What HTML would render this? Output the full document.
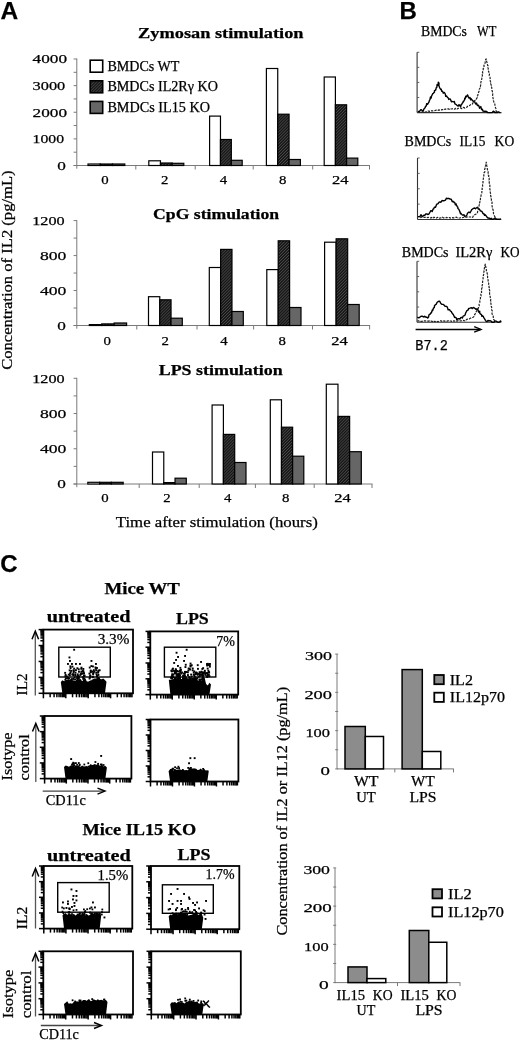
<!DOCTYPE html>
<html><head><meta charset="utf-8"><style>
html,body{margin:0;padding:0;background:#fff;}
svg{display:block;filter:grayscale(1);}
text{stroke:#000;stroke-width:0.25px;}
</style></head><body>
<svg width="520" height="1042" viewBox="0 0 520 1042">
<defs>
<pattern id="hatch" patternUnits="userSpaceOnUse" width="2.1" height="2.1" patternTransform="rotate(45)">
<rect width="2.1" height="2.1" fill="#141414"/>
<rect x="0" y="0" width="0.8" height="2.1" fill="#4a4a4a"/>
</pattern>
</defs>
<rect width="520" height="1042" fill="#fff"/>
<text x="0.6" y="19.0" font-size="24.5" font-family='"Liberation Sans", sans-serif' font-weight="bold" text-anchor="start" >A</text>
<text x="399.5" y="19.0" font-size="24" font-family='"Liberation Sans", sans-serif' font-weight="bold" text-anchor="start" >B</text>
<text x="0.3" y="572.3" font-size="24" font-family='"Liberation Sans", sans-serif' font-weight="bold" text-anchor="start" >C</text>
<text x="138.1" y="38.3" font-size="15.5" font-family='"Liberation Serif", serif' font-weight="bold" text-anchor="start" textLength="165.4" lengthAdjust="spacingAndGlyphs" >Zymosan stimulation</text>
<line x1="76.8" y1="58.5" x2="76.8" y2="168.7" stroke="#7a7a7a" stroke-width="1"/>
<line x1="73.6" y1="59.0" x2="76.8" y2="59.0" stroke="#7a7a7a" stroke-width="1"/>
<text x="32.6" y="63.3" font-size="13" font-family='"Liberation Serif", serif' font-weight="normal" text-anchor="start" textLength="34.4" lengthAdjust="spacingAndGlyphs" >4000</text>
<line x1="73.6" y1="72.3125" x2="76.8" y2="72.3125" stroke="#7a7a7a" stroke-width="1"/>
<line x1="73.6" y1="85.625" x2="76.8" y2="85.625" stroke="#7a7a7a" stroke-width="1"/>
<text x="32.6" y="89.925" font-size="13" font-family='"Liberation Serif", serif' font-weight="normal" text-anchor="start" textLength="32.6" lengthAdjust="spacingAndGlyphs" >3000</text>
<line x1="73.6" y1="98.9375" x2="76.8" y2="98.9375" stroke="#7a7a7a" stroke-width="1"/>
<line x1="73.6" y1="112.25" x2="76.8" y2="112.25" stroke="#7a7a7a" stroke-width="1"/>
<text x="32.6" y="116.55" font-size="13" font-family='"Liberation Serif", serif' font-weight="normal" text-anchor="start" textLength="34.4" lengthAdjust="spacingAndGlyphs" >2000</text>
<line x1="73.6" y1="125.5625" x2="76.8" y2="125.5625" stroke="#7a7a7a" stroke-width="1"/>
<line x1="73.6" y1="138.875" x2="76.8" y2="138.875" stroke="#7a7a7a" stroke-width="1"/>
<text x="32.6" y="143.175" font-size="13" font-family='"Liberation Serif", serif' font-weight="normal" text-anchor="start" textLength="31.4" lengthAdjust="spacingAndGlyphs" >1000</text>
<line x1="73.6" y1="152.1875" x2="76.8" y2="152.1875" stroke="#7a7a7a" stroke-width="1"/>
<line x1="73.6" y1="165.5" x2="76.8" y2="165.5" stroke="#7a7a7a" stroke-width="1"/>
<text x="57.2" y="169.8" font-size="13" font-family='"Liberation Serif", serif' font-weight="normal" text-anchor="start" textLength="8.6" lengthAdjust="spacingAndGlyphs" >0</text>
<line x1="73.5" y1="165.5" x2="370.0" y2="165.5" stroke="#7a7a7a" stroke-width="1"/>
<line x1="135.8" y1="165.5" x2="135.8" y2="169.5" stroke="#7a7a7a" stroke-width="1"/>
<line x1="195.2" y1="165.5" x2="195.2" y2="169.5" stroke="#7a7a7a" stroke-width="1"/>
<line x1="253.2" y1="165.5" x2="253.2" y2="169.5" stroke="#7a7a7a" stroke-width="1"/>
<line x1="312.7" y1="165.5" x2="312.7" y2="169.5" stroke="#7a7a7a" stroke-width="1"/>
<line x1="369.5" y1="165.5" x2="369.5" y2="169.5" stroke="#7a7a7a" stroke-width="1"/>
<rect x="88.0" y="164.0" width="12.266666666666666" height="1.5" fill="#fff" stroke="#000" stroke-width="1.2"/>
<rect x="100.26666666666667" y="164.0" width="12.266666666666666" height="1.5" fill="url(#hatch)" stroke="#000" stroke-width="1.2"/>
<rect x="112.53333333333333" y="164.0" width="12.266666666666666" height="1.5" fill="#666" stroke="#000" stroke-width="1.2"/>
<rect x="148.8" y="160.8" width="11.666666666666666" height="4.699999999999989" fill="#fff" stroke="#000" stroke-width="1.2"/>
<rect x="160.46666666666667" y="163.0" width="11.666666666666666" height="2.5" fill="url(#hatch)" stroke="#000" stroke-width="1.2"/>
<rect x="172.13333333333335" y="163.3" width="11.666666666666666" height="2.1999999999999886" fill="#666" stroke="#000" stroke-width="1.2"/>
<rect x="209.6" y="116.1" width="10.866666666666665" height="49.400000000000006" fill="#fff" stroke="#000" stroke-width="1.2"/>
<rect x="220.46666666666667" y="139.5" width="10.866666666666665" height="26.0" fill="url(#hatch)" stroke="#000" stroke-width="1.2"/>
<rect x="231.33333333333331" y="160.3" width="10.866666666666665" height="5.199999999999989" fill="#666" stroke="#000" stroke-width="1.2"/>
<rect x="266.4" y="68.5" width="11.333333333333334" height="97.0" fill="#fff" stroke="#000" stroke-width="1.2"/>
<rect x="277.7333333333333" y="114.2" width="11.333333333333334" height="51.3" fill="url(#hatch)" stroke="#000" stroke-width="1.2"/>
<rect x="289.06666666666666" y="159.5" width="11.333333333333334" height="6.0" fill="#666" stroke="#000" stroke-width="1.2"/>
<rect x="324.2" y="77.0" width="11.200000000000008" height="88.5" fill="#fff" stroke="#000" stroke-width="1.2"/>
<rect x="335.4" y="104.8" width="11.200000000000008" height="60.7" fill="url(#hatch)" stroke="#000" stroke-width="1.2"/>
<rect x="346.6" y="158.1" width="11.200000000000008" height="7.400000000000006" fill="#666" stroke="#000" stroke-width="1.2"/>
<text x="105" y="183.9" font-size="13" font-family='"Liberation Serif", serif' font-weight="normal" text-anchor="middle" textLength="7.4" lengthAdjust="spacingAndGlyphs" >0</text>
<text x="164.8" y="183.9" font-size="13" font-family='"Liberation Serif", serif' font-weight="normal" text-anchor="middle" textLength="7.4" lengthAdjust="spacingAndGlyphs" >2</text>
<text x="223.5" y="183.9" font-size="13" font-family='"Liberation Serif", serif' font-weight="normal" text-anchor="middle" textLength="7.4" lengthAdjust="spacingAndGlyphs" >4</text>
<text x="282.8" y="183.9" font-size="13" font-family='"Liberation Serif", serif' font-weight="normal" text-anchor="middle" textLength="7.4" lengthAdjust="spacingAndGlyphs" >8</text>
<text x="340.2" y="183.9" font-size="13" font-family='"Liberation Serif", serif' font-weight="normal" text-anchor="middle" textLength="16.5" lengthAdjust="spacingAndGlyphs" >24</text>
<text x="153.1" y="218.7" font-size="15.5" font-family='"Liberation Serif", serif' font-weight="bold" text-anchor="start" textLength="126" lengthAdjust="spacingAndGlyphs" >CpG stimulation</text>
<line x1="76.8" y1="220.1" x2="76.8" y2="328.7" stroke="#7a7a7a" stroke-width="1"/>
<line x1="73.6" y1="220.6" x2="76.8" y2="220.6" stroke="#7a7a7a" stroke-width="1"/>
<text x="32.2" y="224.9" font-size="13" font-family='"Liberation Serif", serif' font-weight="normal" text-anchor="start" textLength="32.4" lengthAdjust="spacingAndGlyphs" >1200</text>
<line x1="73.6" y1="238.08333333333331" x2="76.8" y2="238.08333333333331" stroke="#7a7a7a" stroke-width="1"/>
<line x1="73.6" y1="255.56666666666666" x2="76.8" y2="255.56666666666666" stroke="#7a7a7a" stroke-width="1"/>
<text x="40.0" y="259.8666666666667" font-size="13" font-family='"Liberation Serif", serif' font-weight="normal" text-anchor="start" textLength="26.4" lengthAdjust="spacingAndGlyphs" >800</text>
<line x1="73.6" y1="273.05" x2="76.8" y2="273.05" stroke="#7a7a7a" stroke-width="1"/>
<line x1="73.6" y1="290.5333333333333" x2="76.8" y2="290.5333333333333" stroke="#7a7a7a" stroke-width="1"/>
<text x="40.0" y="294.8333333333333" font-size="13" font-family='"Liberation Serif", serif' font-weight="normal" text-anchor="start" textLength="26.4" lengthAdjust="spacingAndGlyphs" >400</text>
<line x1="73.6" y1="308.01666666666665" x2="76.8" y2="308.01666666666665" stroke="#7a7a7a" stroke-width="1"/>
<line x1="73.6" y1="325.5" x2="76.8" y2="325.5" stroke="#7a7a7a" stroke-width="1"/>
<text x="57.2" y="329.8" font-size="13" font-family='"Liberation Serif", serif' font-weight="normal" text-anchor="start" textLength="8.6" lengthAdjust="spacingAndGlyphs" >0</text>
<line x1="73.5" y1="325.5" x2="370.1" y2="325.5" stroke="#7a7a7a" stroke-width="1"/>
<line x1="136.8" y1="325.5" x2="136.8" y2="329.5" stroke="#7a7a7a" stroke-width="1"/>
<line x1="197" y1="325.5" x2="197" y2="329.5" stroke="#7a7a7a" stroke-width="1"/>
<line x1="253.6" y1="325.5" x2="253.6" y2="329.5" stroke="#7a7a7a" stroke-width="1"/>
<line x1="312.5" y1="325.5" x2="312.5" y2="329.5" stroke="#7a7a7a" stroke-width="1"/>
<line x1="369.6" y1="325.5" x2="369.6" y2="329.5" stroke="#7a7a7a" stroke-width="1"/>
<rect x="89.3" y="324.6" width="12.433333333333332" height="0.8999999999999773" fill="#fff" stroke="#000" stroke-width="1.2"/>
<rect x="101.73333333333333" y="323.9" width="12.433333333333332" height="1.6000000000000227" fill="url(#hatch)" stroke="#000" stroke-width="1.2"/>
<rect x="114.16666666666666" y="323.0" width="12.433333333333332" height="2.5" fill="#666" stroke="#000" stroke-width="1.2"/>
<rect x="148.5" y="296.7" width="11.266666666666671" height="28.80000000000001" fill="#fff" stroke="#000" stroke-width="1.2"/>
<rect x="159.76666666666668" y="299.8" width="11.266666666666671" height="25.69999999999999" fill="url(#hatch)" stroke="#000" stroke-width="1.2"/>
<rect x="171.03333333333333" y="318.2" width="11.266666666666671" height="7.300000000000011" fill="#666" stroke="#000" stroke-width="1.2"/>
<rect x="209.3" y="267.5" width="11.333333333333334" height="58.0" fill="#fff" stroke="#000" stroke-width="1.2"/>
<rect x="220.63333333333335" y="249.4" width="11.333333333333334" height="76.1" fill="url(#hatch)" stroke="#000" stroke-width="1.2"/>
<rect x="231.96666666666667" y="311.5" width="11.333333333333334" height="14.0" fill="#666" stroke="#000" stroke-width="1.2"/>
<rect x="266.8" y="269.6" width="11.399999999999997" height="55.89999999999998" fill="#fff" stroke="#000" stroke-width="1.2"/>
<rect x="278.2" y="240.8" width="11.399999999999997" height="84.69999999999999" fill="url(#hatch)" stroke="#000" stroke-width="1.2"/>
<rect x="289.6" y="307.5" width="11.399999999999997" height="18.0" fill="#666" stroke="#000" stroke-width="1.2"/>
<rect x="324.6" y="242.2" width="11.533333333333323" height="83.30000000000001" fill="#fff" stroke="#000" stroke-width="1.2"/>
<rect x="336.1333333333333" y="238.8" width="11.533333333333323" height="86.69999999999999" fill="url(#hatch)" stroke="#000" stroke-width="1.2"/>
<rect x="347.6666666666667" y="304.5" width="11.533333333333323" height="21.0" fill="#666" stroke="#000" stroke-width="1.2"/>
<text x="107.1" y="345.0" font-size="13" font-family='"Liberation Serif", serif' font-weight="normal" text-anchor="middle" textLength="7.4" lengthAdjust="spacingAndGlyphs" >0</text>
<text x="165.3" y="345.0" font-size="13" font-family='"Liberation Serif", serif' font-weight="normal" text-anchor="middle" textLength="7.4" lengthAdjust="spacingAndGlyphs" >2</text>
<text x="224" y="345.0" font-size="13" font-family='"Liberation Serif", serif' font-weight="normal" text-anchor="middle" textLength="7.4" lengthAdjust="spacingAndGlyphs" >4</text>
<text x="282.1" y="345.0" font-size="13" font-family='"Liberation Serif", serif' font-weight="normal" text-anchor="middle" textLength="7.4" lengthAdjust="spacingAndGlyphs" >8</text>
<text x="339.5" y="345.0" font-size="13" font-family='"Liberation Serif", serif' font-weight="normal" text-anchor="middle" textLength="16.5" lengthAdjust="spacingAndGlyphs" >24</text>
<text x="158.7" y="375.3" font-size="15.5" font-family='"Liberation Serif", serif' font-weight="bold" text-anchor="start" textLength="124" lengthAdjust="spacingAndGlyphs" >LPS stimulation</text>
<line x1="76.8" y1="377.8" x2="76.8" y2="487.2" stroke="#7a7a7a" stroke-width="1"/>
<line x1="73.6" y1="378.3" x2="76.8" y2="378.3" stroke="#7a7a7a" stroke-width="1"/>
<text x="32.2" y="382.6" font-size="13" font-family='"Liberation Serif", serif' font-weight="normal" text-anchor="start" textLength="32.4" lengthAdjust="spacingAndGlyphs" >1200</text>
<line x1="73.6" y1="395.9166666666667" x2="76.8" y2="395.9166666666667" stroke="#7a7a7a" stroke-width="1"/>
<line x1="73.6" y1="413.53333333333336" x2="76.8" y2="413.53333333333336" stroke="#7a7a7a" stroke-width="1"/>
<text x="40.0" y="417.83333333333337" font-size="13" font-family='"Liberation Serif", serif' font-weight="normal" text-anchor="start" textLength="26.4" lengthAdjust="spacingAndGlyphs" >800</text>
<line x1="73.6" y1="431.15" x2="76.8" y2="431.15" stroke="#7a7a7a" stroke-width="1"/>
<line x1="73.6" y1="448.76666666666665" x2="76.8" y2="448.76666666666665" stroke="#7a7a7a" stroke-width="1"/>
<text x="40.0" y="453.06666666666666" font-size="13" font-family='"Liberation Serif", serif' font-weight="normal" text-anchor="start" textLength="26.4" lengthAdjust="spacingAndGlyphs" >400</text>
<line x1="73.6" y1="466.3833333333333" x2="76.8" y2="466.3833333333333" stroke="#7a7a7a" stroke-width="1"/>
<line x1="73.6" y1="484.0" x2="76.8" y2="484.0" stroke="#7a7a7a" stroke-width="1"/>
<text x="57.2" y="488.3" font-size="13" font-family='"Liberation Serif", serif' font-weight="normal" text-anchor="start" textLength="8.6" lengthAdjust="spacingAndGlyphs" >0</text>
<line x1="73.5" y1="484" x2="372.5" y2="484" stroke="#7a7a7a" stroke-width="1"/>
<line x1="139.2" y1="484" x2="139.2" y2="488" stroke="#7a7a7a" stroke-width="1"/>
<line x1="199.2" y1="484" x2="199.2" y2="488" stroke="#7a7a7a" stroke-width="1"/>
<line x1="255.4" y1="484" x2="255.4" y2="488" stroke="#7a7a7a" stroke-width="1"/>
<line x1="314.2" y1="484" x2="314.2" y2="488" stroke="#7a7a7a" stroke-width="1"/>
<line x1="372" y1="484" x2="372" y2="488" stroke="#7a7a7a" stroke-width="1"/>
<rect x="87.8" y="482.3" width="11.800000000000002" height="1.6999999999999886" fill="#fff" stroke="#000" stroke-width="1.2"/>
<rect x="99.6" y="482.3" width="11.800000000000002" height="1.6999999999999886" fill="url(#hatch)" stroke="#000" stroke-width="1.2"/>
<rect x="111.4" y="482.3" width="11.800000000000002" height="1.6999999999999886" fill="#666" stroke="#000" stroke-width="1.2"/>
<rect x="152.5" y="452" width="11.266666666666671" height="32" fill="#fff" stroke="#000" stroke-width="1.2"/>
<rect x="163.76666666666668" y="482.6" width="11.266666666666671" height="1.3999999999999773" fill="url(#hatch)" stroke="#000" stroke-width="1.2"/>
<rect x="175.03333333333333" y="478.2" width="11.266666666666671" height="5.800000000000011" fill="#666" stroke="#000" stroke-width="1.2"/>
<rect x="212.1" y="405" width="11.300000000000002" height="79" fill="#fff" stroke="#000" stroke-width="1.2"/>
<rect x="223.4" y="434.4" width="11.300000000000002" height="49.60000000000002" fill="url(#hatch)" stroke="#000" stroke-width="1.2"/>
<rect x="234.7" y="462.5" width="11.300000000000002" height="21.5" fill="#666" stroke="#000" stroke-width="1.2"/>
<rect x="270.3" y="399.8" width="11.166666666666666" height="84.19999999999999" fill="#fff" stroke="#000" stroke-width="1.2"/>
<rect x="281.4666666666667" y="427.2" width="11.166666666666666" height="56.80000000000001" fill="url(#hatch)" stroke="#000" stroke-width="1.2"/>
<rect x="292.6333333333333" y="456.2" width="11.166666666666666" height="27.80000000000001" fill="#666" stroke="#000" stroke-width="1.2"/>
<rect x="326.3" y="384.2" width="11.666666666666666" height="99.80000000000001" fill="#fff" stroke="#000" stroke-width="1.2"/>
<rect x="337.9666666666667" y="416.4" width="11.666666666666666" height="67.60000000000002" fill="url(#hatch)" stroke="#000" stroke-width="1.2"/>
<rect x="349.6333333333333" y="451.7" width="11.666666666666666" height="32.30000000000001" fill="#666" stroke="#000" stroke-width="1.2"/>
<text x="105" y="502.3" font-size="13" font-family='"Liberation Serif", serif' font-weight="normal" text-anchor="middle" textLength="7.4" lengthAdjust="spacingAndGlyphs" >0</text>
<text x="167" y="502.3" font-size="13" font-family='"Liberation Serif", serif' font-weight="normal" text-anchor="middle" textLength="7.4" lengthAdjust="spacingAndGlyphs" >2</text>
<text x="227.7" y="502.3" font-size="13" font-family='"Liberation Serif", serif' font-weight="normal" text-anchor="middle" textLength="7.4" lengthAdjust="spacingAndGlyphs" >4</text>
<text x="285.8" y="502.3" font-size="13" font-family='"Liberation Serif", serif' font-weight="normal" text-anchor="middle" textLength="7.4" lengthAdjust="spacingAndGlyphs" >8</text>
<text x="342.6" y="502.3" font-size="13" font-family='"Liberation Serif", serif' font-weight="normal" text-anchor="middle" textLength="16.5" lengthAdjust="spacingAndGlyphs" >24</text>
<text x="115.8" y="526.5" font-size="15" font-family='"Liberation Serif", serif' font-weight="normal" text-anchor="start" textLength="202" lengthAdjust="spacingAndGlyphs" >Time after stimulation (hours)</text>
<text transform="translate(11.5,270.1) rotate(-90)" font-size="14.5" font-family='"Liberation Serif", serif' text-anchor="middle" textLength="199.4" lengthAdjust="spacingAndGlyphs">Concentration of IL2 (pg/mL)</text>
<rect x="90.2" y="60.2" width="12.5" height="12" fill="#fff" stroke="#000" stroke-width="1.6"/>
<text x="107.4" y="70.8" font-size="14" font-family='"Liberation Serif", serif' font-weight="normal" text-anchor="start" textLength="72" lengthAdjust="spacingAndGlyphs" >BMDCs WT</text>
<rect x="90.2" y="80.8" width="12.5" height="12" fill="url(#hatch)" stroke="#000" stroke-width="1.6"/>
<text x="107.4" y="91.4" font-size="14" font-family='"Liberation Serif", serif' font-weight="normal" text-anchor="start" textLength="110.5" lengthAdjust="spacingAndGlyphs" >BMDCs IL2R&#947; KO</text>
<rect x="90.2" y="101.4" width="12.5" height="12" fill="#666" stroke="#000" stroke-width="1.6"/>
<text x="107.4" y="112.00000000000001" font-size="14" font-family='"Liberation Serif", serif' font-weight="normal" text-anchor="start" textLength="102.5" lengthAdjust="spacingAndGlyphs" >BMDCs IL15 KO</text>
<text x="421" y="35.9" font-size="13.6" font-family='"Liberation Serif", serif' font-weight="normal" text-anchor="start" textLength="45.9" lengthAdjust="spacingAndGlyphs" >BMDCs</text>
<text x="476.9" y="35.9" font-size="13.6" font-family='"Liberation Serif", serif' font-weight="normal" text-anchor="start" textLength="19.4" lengthAdjust="spacingAndGlyphs" >WT</text>
<text x="404.6" y="145.7" font-size="14" font-family='"Liberation Serif", serif' font-weight="normal" text-anchor="start" textLength="46.6" lengthAdjust="spacingAndGlyphs" >BMDCs</text>
<text x="459.5" y="145.7" font-size="14" font-family='"Liberation Serif", serif' font-weight="normal" text-anchor="start" textLength="25.9" lengthAdjust="spacingAndGlyphs" >IL15</text>
<text x="494.6" y="145.7" font-size="14" font-family='"Liberation Serif", serif' font-weight="normal" text-anchor="start" textLength="19.6" lengthAdjust="spacingAndGlyphs" >KO</text>
<text x="401.8" y="256.6" font-size="14" font-family='"Liberation Serif", serif' font-weight="normal" text-anchor="start" textLength="46.7" lengthAdjust="spacingAndGlyphs" >BMDCs</text>
<text x="455.4" y="256.6" font-size="14" font-family='"Liberation Serif", serif' font-weight="normal" text-anchor="start" textLength="36.9" lengthAdjust="spacingAndGlyphs" >IL2R&#947;</text>
<text x="500.4" y="256.6" font-size="14" font-family='"Liberation Serif", serif' font-weight="normal" text-anchor="start" textLength="19.1" lengthAdjust="spacingAndGlyphs" >KO</text>
<line x1="417.1" y1="52.3" x2="417.1" y2="112.6" stroke="#333" stroke-width="1.1"/>
<line x1="417.1" y1="112.6" x2="501.5" y2="112.6" stroke="#333" stroke-width="1.1"/>
<line x1="417.1" y1="52.3" x2="419.3" y2="52.3" stroke="#555" stroke-width="0.9"/>
<line x1="417.1" y1="67.375" x2="419.3" y2="67.375" stroke="#555" stroke-width="0.9"/>
<line x1="417.1" y1="82.44999999999999" x2="419.3" y2="82.44999999999999" stroke="#555" stroke-width="0.9"/>
<line x1="417.1" y1="97.52499999999999" x2="419.3" y2="97.52499999999999" stroke="#555" stroke-width="0.9"/>
<polyline points="417.7,111.6 418.7,111.5 419.4,111.7 420.8,109.6 421.4,109.7 422.5,111.2 423.5,110.3 423.9,108.9 424.9,108.0 425.4,106.9 425.5,106.4 426.4,105.8 426.6,103.7 427.5,104.3 428.3,103.1 428.9,102.2 429.4,100.5 429.9,99.7 429.9,99.9 430.5,97.0 431.1,98.2 431.5,96.3 432.1,95.0 432.7,93.7 433.3,93.3 433.9,92.6 434.5,92.1 434.5,90.6 435.6,90.2 435.9,89.3 436.2,87.8 436.9,87.2 437.0,84.8 438.0,85.3 438.3,82.4 438.3,82.3 439.0,83.2 438.9,85.9 439.2,86.4 439.7,87.9 440.7,89.3 441.3,89.2 441.3,89.7 441.8,91.4 442.6,91.3 443.3,93.2 444.4,92.5 445.3,94.0 445.7,96.3 446.5,95.9 447.3,97.1 448.1,97.7 448.8,99.4 449.8,98.9 450.3,99.1 451.4,101.8 452.0,101.4 453.3,101.8 454.3,101.5 454.9,103.8 456.1,104.5 457.0,105.3 458.2,106.1 459.0,104.7 460.7,106.7 461.0,104.7 461.5,104.7 462.2,103.2 463.0,102.4 463.3,101.2 463.6,101.5 464.5,100.0 464.7,98.3 465.2,98.7 465.8,96.1 466.5,96.7 467.6,94.9 468.4,97.1 469.0,98.0 470.0,97.5 470.6,99.8 471.3,98.8 472.3,100.3 473.7,101.8 474.3,100.9 475.3,103.3 475.9,104.1 476.6,103.1 477.4,105.6 478.3,105.2 479.0,106.2 479.6,108.2 480.8,106.6 481.6,109.6 482.4,109.2 482.9,111.1 484.2,111.2 485.0,111.6 485.8,111.2 486.6,111.6 487.8,112.6 488.7,112.6 490.1,112.6 491.3,112.6 492.1,112.6 493.3,111.2 494.0,111.6 495.2,112.6 496.5,112.3 497.2,112.6 498.5,111.9 499.5,112.5 500.4,112.6" fill="none" stroke="#000" stroke-width="1.4" stroke-linejoin="round"/>
<polyline points="421.3,112.0 422.3,112.1 423.5,111.6 424.7,112.3 425.4,112.0 426.5,111.6 427.4,111.1 428.9,111.0 429.8,111.5 430.5,111.3 431.8,110.7 432.9,111.0 433.5,111.0 434.8,110.6 435.6,110.3 436.5,110.2 438.0,110.5 438.7,109.9 439.9,110.2 441.2,110.1 442.0,109.6 443.1,109.6 444.1,109.0 445.0,109.5 446.4,108.7 447.4,108.8 448.4,108.9 449.4,109.4 450.5,108.8 451.6,109.0 452.9,108.7 453.9,108.6 454.7,109.2 455.8,108.3 457.1,109.0 458.0,108.4 459.2,108.2 460.4,107.9 461.7,108.6 462.8,108.2 463.5,107.4 464.9,108.1 466.1,107.4 466.9,107.1 467.5,106.3 468.4,106.0 469.9,105.4 470.3,104.9 471.3,104.1 472.2,104.1 472.9,102.8 473.9,102.7 474.4,101.1 475.3,100.2 476.1,100.0 476.6,98.4 477.2,97.6 477.2,96.5 477.4,96.2 477.8,95.5 478.0,93.8 478.4,92.6 478.9,91.9 479.0,91.5 479.2,89.7 479.4,89.0 480.1,88.0 479.9,86.9 480.4,86.7 480.5,85.8 480.8,84.6 481.0,83.5 480.8,82.2 481.4,80.9 481.6,80.6 481.7,79.0 481.8,78.4 481.9,77.4 482.2,76.3 482.5,74.9 482.2,74.5 482.9,73.5 482.5,72.2 482.7,71.4 483.2,70.5 483.2,68.5 483.7,68.0 484.1,67.1 483.9,65.5 484.1,65.2 484.5,64.1 485.1,63.0 485.2,62.0 485.3,61.0 485.6,59.7 486.2,58.9 486.3,59.6 486.3,60.2 486.8,61.9 487.2,63.3 487.3,63.6 487.6,65.4 488.1,65.7 487.8,67.5 488.2,68.3 488.3,69.5 488.6,70.0 488.5,71.8 489.0,71.9 489.1,73.7 489.5,74.3 489.2,75.6 489.4,76.8 490.0,77.2 490.1,78.3 490.3,79.1 490.1,80.1 490.4,81.5 490.9,82.5 490.5,83.7 491.0,84.3 491.3,85.5 491.1,86.5 491.7,87.3 491.8,88.4 491.9,90.1 492.1,90.8 492.4,91.5 492.6,92.6 492.7,93.5 492.7,95.0 492.6,95.7 492.9,97.0 493.0,97.9 493.1,98.3 493.3,100.1 493.6,101.2 493.9,101.9 494.0,103.0 494.8,103.9 494.9,104.7 495.0,105.9 495.1,106.6 495.9,108.6 496.1,109.5 496.0,110.7 496.5,111.4 497.8,112.0 498.5,112.6" fill="none" stroke="#222" stroke-width="1.2" stroke-linejoin="round" stroke-dasharray="2.4 1.1"/>
<line x1="417.5" y1="158" x2="417.5" y2="219.5" stroke="#333" stroke-width="1.1"/>
<line x1="417.5" y1="219.5" x2="501.3" y2="219.5" stroke="#333" stroke-width="1.1"/>
<line x1="417.5" y1="158.0" x2="419.7" y2="158.0" stroke="#555" stroke-width="0.9"/>
<line x1="417.5" y1="173.375" x2="419.7" y2="173.375" stroke="#555" stroke-width="0.9"/>
<line x1="417.5" y1="188.75" x2="419.7" y2="188.75" stroke="#555" stroke-width="0.9"/>
<line x1="417.5" y1="204.125" x2="419.7" y2="204.125" stroke="#555" stroke-width="0.9"/>
<polyline points="417.8,216.6 419.0,216.7 420.1,216.4 420.9,214.7 422.1,216.5 422.8,216.3 423.8,215.2 425.0,215.2 425.8,213.9 427.2,214.0 427.8,214.6 428.8,214.2 429.5,213.0 430.7,210.9 431.1,210.6 432.2,211.6 433.0,209.2 433.6,208.8 434.5,207.2 435.3,207.4 435.6,207.1 436.3,205.2 437.0,204.0 438.1,203.6 439.1,202.1 439.9,202.0 441.0,202.2 442.0,200.5 442.7,200.8 443.7,200.8 445.4,200.1 446.5,198.2 447.5,198.7 448.4,198.3 450.1,199.0 451.2,199.3 452.3,201.8 452.9,201.3 454.2,202.6 454.7,202.4 455.4,204.8 456.1,203.9 456.3,204.8 457.3,206.7 457.8,207.1 457.9,208.4 458.3,208.8 458.8,209.2 459.8,211.5 459.7,211.3 460.6,213.9 461.0,213.4 462.0,214.6 462.4,215.1 463.2,215.0 464.0,214.8 464.8,216.4 466.3,216.0 466.9,215.0 467.5,213.1 468.5,212.5 469.0,212.0 470.0,212.8 470.5,212.0 471.4,210.2 471.9,209.5 472.9,208.7 474.6,208.0 475.5,208.7 476.3,208.0 477.3,207.3 478.7,209.1 479.4,208.9 480.1,210.6 480.9,211.1 481.6,211.2 482.2,211.9 483.1,213.8 484.0,213.7 484.5,215.3 485.4,214.8 486.3,216.1 487.2,217.4 488.2,218.2 489.1,217.9 490.2,219.1 491.2,218.3 492.1,219.2 493.3,219.2 494.0,218.7 495.2,218.0 496.0,219.2 497.1,219.1 497.8,219.2 499.0,219.2 500.0,219.1 501.0,218.8" fill="none" stroke="#000" stroke-width="1.4" stroke-linejoin="round"/>
<polyline points="420.2,217.8 420.9,217.5 422.1,217.0 423.2,217.5 424.2,217.4 425.3,217.3 426.0,217.8 427.2,217.6 428.2,217.3 429.0,217.9 430.3,217.9 431.1,217.9 432.4,217.2 433.2,217.9 434.0,217.2 435.1,217.8 436.3,218.1 437.4,217.4 438.5,217.5 439.3,218.1 440.4,217.8 441.6,218.0 442.3,217.2 443.2,217.8 444.1,217.8 445.4,218.1 446.5,217.4 447.2,217.6 448.2,217.7 449.7,217.5 450.2,218.0 451.2,218.1 452.7,217.6 453.4,217.9 454.4,217.6 455.8,217.3 456.5,217.2 457.4,217.8 458.3,218.0 459.7,218.0 460.7,217.7 461.7,217.4 462.5,217.7 463.6,217.3 464.3,217.2 465.4,217.5 466.7,217.2 467.2,216.9 468.6,216.8 469.4,217.0 470.8,217.0 471.4,216.8 472.6,217.4 473.3,216.0 474.0,215.5 474.9,214.6 475.7,214.3 476.9,213.4 477.4,212.9 477.6,211.6 477.9,210.3 478.4,209.7 478.1,208.2 478.4,207.3 479.0,205.9 479.2,204.9 479.6,204.1 479.2,203.6 480.0,201.9 479.9,201.3 480.4,200.4 480.4,199.1 480.5,197.7 480.9,196.7 480.9,196.1 481.1,195.1 481.5,193.6 481.8,193.0 481.8,192.1 482.0,190.6 482.0,189.6 482.3,189.4 482.1,188.4 482.5,187.2 482.7,185.6 482.5,185.4 482.6,184.3 482.9,182.8 483.1,181.6 482.9,181.5 482.9,180.4 483.2,179.4 483.4,178.5 483.3,177.4 483.9,175.6 483.8,175.1 483.8,173.5 483.9,172.8 484.6,172.4 484.8,171.3 484.6,169.6 484.8,169.0 485.2,167.8 485.2,166.7 485.7,165.2 485.9,164.1 486.0,163.2 486.3,162.2 486.3,163.4 486.7,164.2 486.8,165.9 486.9,166.2 487.2,167.2 487.3,168.8 487.4,169.2 487.6,170.4 488.1,171.4 488.1,172.6 488.2,173.7 488.2,174.8 488.8,175.7 488.7,176.2 488.5,177.4 489.1,178.1 489.2,179.2 489.1,180.2 489.3,181.1 489.2,182.9 489.7,183.7 489.6,184.5 489.9,185.9 489.9,186.4 489.7,187.3 489.8,189.2 490.3,190.2 490.4,191.0 490.3,192.0 490.3,192.8 490.8,194.2 490.6,195.2 490.7,196.0 491.1,197.2 491.2,198.4 491.4,199.2 491.4,199.6 491.4,200.5 491.9,201.6 492.1,202.5 491.9,204.4 491.9,205.3 492.0,205.6 492.2,206.6 492.4,208.3 492.7,209.1 492.9,209.6 493.4,210.7 493.4,211.9 493.5,213.1 493.5,214.0 494.0,214.6 494.4,215.7 495.1,217.3 495.9,218.4 496.3,219.0" fill="none" stroke="#222" stroke-width="1.2" stroke-linejoin="round" stroke-dasharray="2.4 1.1"/>
<line x1="417" y1="261.3" x2="417" y2="322.3" stroke="#333" stroke-width="1.1"/>
<line x1="417" y1="322.3" x2="501.3" y2="322.3" stroke="#333" stroke-width="1.1"/>
<line x1="417" y1="261.3" x2="419.2" y2="261.3" stroke="#555" stroke-width="0.9"/>
<line x1="417" y1="276.55" x2="419.2" y2="276.55" stroke="#555" stroke-width="0.9"/>
<line x1="417" y1="291.8" x2="419.2" y2="291.8" stroke="#555" stroke-width="0.9"/>
<line x1="417" y1="307.05" x2="419.2" y2="307.05" stroke="#555" stroke-width="0.9"/>
<polyline points="417.3,317.1 418.3,317.8 419.5,317.5 420.7,316.4 421.7,316.3 422.5,316.3 424.0,317.0 424.7,316.3 426.2,317.4 426.9,317.2 427.7,318.0 428.5,317.0 429.1,314.6 430.2,314.1 430.7,313.0 431.3,313.1 431.7,312.1 432.3,310.0 432.8,310.4 433.3,308.6 433.6,307.9 434.3,307.6 434.6,305.4 435.2,305.1 435.5,304.7 436.1,304.4 437.2,302.3 438.2,301.5 439.6,301.1 440.7,303.3 441.7,304.2 443.1,304.4 444.0,305.0 445.3,306.4 446.1,306.4 446.9,306.4 447.8,308.6 448.1,309.8 449.1,309.7 449.7,309.8 450.3,311.0 451.4,311.7 451.8,312.7 452.8,314.1 453.2,314.2 454.0,316.0 454.6,317.4 454.9,317.0 456.2,317.9 456.8,319.8 457.8,318.8 459.0,318.6 459.9,319.0 461.0,317.4 461.7,317.5 462.4,318.0 463.1,316.3 463.4,315.9 464.5,315.6 465.2,314.8 465.6,313.0 466.4,311.6 466.7,310.8 467.5,310.4 468.1,309.9 468.8,308.4 470.0,308.2 471.5,307.7 472.2,308.6 473.4,307.4 474.4,308.0 476.1,309.4 477.0,308.9 477.4,308.9 478.1,310.3 478.6,312.1 479.7,311.2 479.8,313.1 480.3,313.9 481.5,314.7 481.9,316.2 482.3,315.7 483.2,316.3 483.9,317.9 484.3,318.4 485.5,320.3 486.2,321.3 487.1,321.5 488.0,320.4 488.7,321.0 489.9,320.6 491.1,321.1 492.0,322.2 493.4,322.2 494.0,322.2 495.0,321.1 496.0,321.0 497.4,322.0 498.2,322.2 499.4,322.1 500.4,320.9 501.3,321.8" fill="none" stroke="#000" stroke-width="1.4" stroke-linejoin="round"/>
<polyline points="417.3,321.0 418.1,320.9 418.8,320.9 419.8,321.8 421.0,321.4 422.0,321.3 423.2,321.0 423.8,320.9 424.9,320.8 426.2,321.2 426.8,321.2 428.3,321.1 429.1,320.9 430.1,321.2 431.1,321.1 432.1,321.3 433.0,321.7 433.7,320.9 435.0,321.7 436.3,321.0 437.1,321.4 437.9,321.7 439.2,321.2 440.2,320.9 441.1,320.9 442.3,321.5 443.0,321.6 443.8,320.9 445.0,321.2 446.2,320.8 447.1,321.2 447.8,320.9 448.9,320.6 450.0,320.9 451.2,321.0 451.8,321.5 452.8,320.9 454.3,321.2 455.2,320.7 455.7,320.8 456.9,321.2 458.0,320.6 458.9,320.7 460.0,320.8 460.9,321.0 461.8,320.5 463.0,320.4 464.2,320.7 465.1,320.8 465.7,320.8 466.7,319.3 468.0,319.2 468.8,319.0 469.6,318.8 470.7,318.1 471.6,317.7 473.0,317.3 473.8,316.8 474.6,315.1 474.6,314.5 475.3,313.8 475.6,312.8 476.3,311.5 476.6,311.0 477.4,310.1 477.8,309.5 478.2,308.3 478.6,307.2 478.7,306.4 479.3,305.7 479.0,304.6 479.4,303.4 479.9,302.1 479.8,301.8 479.8,300.7 480.1,299.2 480.4,298.7 480.5,297.0 480.8,296.9 481.1,295.9 480.8,294.2 481.4,293.5 481.6,292.4 481.4,291.9 481.8,290.6 481.6,289.8 481.6,288.8 482.2,287.4 481.9,286.8 482.2,285.3 482.4,284.8 482.6,283.9 482.6,282.8 482.6,281.4 482.8,280.5 482.8,279.8 483.2,278.1 483.1,277.3 483.5,276.1 483.3,275.3 483.6,274.8 483.9,273.3 483.7,272.4 484.1,271.9 483.9,270.6 484.3,269.6 484.3,268.5 484.7,267.3 484.8,265.9 485.1,265.2 485.2,264.2 485.3,264.5 485.2,266.0 485.9,266.8 486.2,268.3 486.2,268.5 486.5,270.3 486.3,270.7 487.0,272.4 487.0,273.1 487.5,274.3 487.6,275.2 487.5,275.8 487.6,276.9 487.6,278.0 487.9,279.2 488.0,279.7 488.2,280.9 488.1,282.3 488.4,282.7 488.8,283.7 488.5,284.6 489.0,286.1 489.0,287.3 489.4,287.8 489.2,289.2 489.6,290.1 489.8,291.5 489.5,291.6 489.6,292.9 489.6,294.3 490.1,295.4 490.1,296.1 490.3,297.4 490.6,298.4 490.8,299.2 490.5,300.0 490.8,301.3 491.0,301.8 490.8,303.0 491.1,304.3 491.3,305.5 491.2,306.4 491.5,306.7 491.8,308.3 491.5,309.1 491.6,309.9 492.3,310.9 492.2,311.8 492.0,313.1 492.1,314.2 492.5,314.7 493.1,315.6 493.3,316.9 493.3,318.5 493.7,319.5 494.4,320.1 494.6,321.5 495.0,322.0" fill="none" stroke="#222" stroke-width="1.2" stroke-linejoin="round" stroke-dasharray="2.4 1.1"/>
<line x1="415.6" y1="329.4" x2="480.5" y2="329.4" stroke="#000" stroke-width="1.5"/>
<polyline points="474.2,326.6 481,329.4 474.2,332.2" fill="none" stroke="#000" stroke-width="1.4"/>
<text x="415.3" y="349.6" font-size="15.5" font-family='"Liberation Mono", monospace' font-weight="normal" text-anchor="start" textLength="32.6" lengthAdjust="spacingAndGlyphs" >B7.2</text>
<text x="104.5" y="593.7" font-size="16.5" font-family='"Liberation Serif", serif' font-weight="bold" text-anchor="start" textLength="75.3" lengthAdjust="spacingAndGlyphs" >Mice WT</text>
<text x="46.7" y="621.5" font-size="17.5" font-family='"Liberation Serif", serif' font-weight="bold" text-anchor="start" textLength="83.7" lengthAdjust="spacingAndGlyphs" >untreated</text>
<text x="176" y="624.2" font-size="17.5" font-family='"Liberation Serif", serif' font-weight="bold" text-anchor="start" textLength="32.8" lengthAdjust="spacingAndGlyphs" >LPS</text>
<text x="82.5" y="834.5" font-size="16.5" font-family='"Liberation Serif", serif' font-weight="bold" text-anchor="start" textLength="113.8" lengthAdjust="spacingAndGlyphs" >Mice IL15 KO</text>
<text x="47" y="861.3" font-size="17.5" font-family='"Liberation Serif", serif' font-weight="bold" text-anchor="start" textLength="83.7" lengthAdjust="spacingAndGlyphs" >untreated</text>
<text x="177.5" y="859.5" font-size="17.5" font-family='"Liberation Serif", serif' font-weight="bold" text-anchor="start" textLength="33" lengthAdjust="spacingAndGlyphs" >LPS</text>
<rect x="43.4" y="629.6" width="89.6" height="63.69999999999993" fill="none" stroke="#000" stroke-width="1.8"/>
<line x1="43.4" y1="693.3" x2="43.4" y2="698.3" stroke="#000" stroke-width="1.5"/>
<line x1="50.143071902873174" y1="693.3" x2="50.143071902873174" y2="697.3" stroke="#000" stroke-width="1.5"/>
<line x1="54.08751610572044" y1="693.3" x2="54.08751610572044" y2="697.3" stroke="#000" stroke-width="1.5"/>
<line x1="56.88614380574636" y1="693.3" x2="56.88614380574636" y2="697.3" stroke="#000" stroke-width="1.5"/>
<line x1="59.05692809712682" y1="693.3" x2="59.05692809712682" y2="697.3" stroke="#000" stroke-width="1.5"/>
<line x1="60.830588008593615" y1="693.3" x2="60.830588008593615" y2="697.3" stroke="#000" stroke-width="1.5"/>
<line x1="62.330196096319355" y1="693.3" x2="62.330196096319355" y2="697.3" stroke="#000" stroke-width="1.5"/>
<line x1="63.62921570861953" y1="693.3" x2="63.62921570861953" y2="697.3" stroke="#000" stroke-width="1.5"/>
<line x1="64.77503221144087" y1="693.3" x2="64.77503221144087" y2="697.3" stroke="#000" stroke-width="1.5"/>
<line x1="65.8" y1="693.3" x2="65.8" y2="698.3" stroke="#000" stroke-width="1.5"/>
<line x1="72.54307190287318" y1="693.3" x2="72.54307190287318" y2="697.3" stroke="#000" stroke-width="1.5"/>
<line x1="76.48751610572043" y1="693.3" x2="76.48751610572043" y2="697.3" stroke="#000" stroke-width="1.5"/>
<line x1="79.28614380574635" y1="693.3" x2="79.28614380574635" y2="697.3" stroke="#000" stroke-width="1.5"/>
<line x1="81.45692809712682" y1="693.3" x2="81.45692809712682" y2="697.3" stroke="#000" stroke-width="1.5"/>
<line x1="83.23058800859361" y1="693.3" x2="83.23058800859361" y2="697.3" stroke="#000" stroke-width="1.5"/>
<line x1="84.73019609631936" y1="693.3" x2="84.73019609631936" y2="697.3" stroke="#000" stroke-width="1.5"/>
<line x1="86.02921570861953" y1="693.3" x2="86.02921570861953" y2="697.3" stroke="#000" stroke-width="1.5"/>
<line x1="87.17503221144088" y1="693.3" x2="87.17503221144088" y2="697.3" stroke="#000" stroke-width="1.5"/>
<line x1="88.19999999999999" y1="693.3" x2="88.19999999999999" y2="698.3" stroke="#000" stroke-width="1.5"/>
<line x1="94.94307190287319" y1="693.3" x2="94.94307190287319" y2="697.3" stroke="#000" stroke-width="1.5"/>
<line x1="98.88751610572044" y1="693.3" x2="98.88751610572044" y2="697.3" stroke="#000" stroke-width="1.5"/>
<line x1="101.68614380574635" y1="693.3" x2="101.68614380574635" y2="697.3" stroke="#000" stroke-width="1.5"/>
<line x1="103.85692809712681" y1="693.3" x2="103.85692809712681" y2="697.3" stroke="#000" stroke-width="1.5"/>
<line x1="105.63058800859362" y1="693.3" x2="105.63058800859362" y2="697.3" stroke="#000" stroke-width="1.5"/>
<line x1="107.13019609631935" y1="693.3" x2="107.13019609631935" y2="697.3" stroke="#000" stroke-width="1.5"/>
<line x1="108.42921570861952" y1="693.3" x2="108.42921570861952" y2="697.3" stroke="#000" stroke-width="1.5"/>
<line x1="109.57503221144086" y1="693.3" x2="109.57503221144086" y2="697.3" stroke="#000" stroke-width="1.5"/>
<line x1="110.6" y1="693.3" x2="110.6" y2="698.3" stroke="#000" stroke-width="1.5"/>
<line x1="117.34307190287316" y1="693.3" x2="117.34307190287316" y2="697.3" stroke="#000" stroke-width="1.5"/>
<line x1="121.28751610572044" y1="693.3" x2="121.28751610572044" y2="697.3" stroke="#000" stroke-width="1.5"/>
<line x1="124.08614380574636" y1="693.3" x2="124.08614380574636" y2="697.3" stroke="#000" stroke-width="1.5"/>
<line x1="126.2569280971268" y1="693.3" x2="126.2569280971268" y2="697.3" stroke="#000" stroke-width="1.5"/>
<line x1="128.0305880085936" y1="693.3" x2="128.0305880085936" y2="697.3" stroke="#000" stroke-width="1.5"/>
<line x1="129.53019609631934" y1="693.3" x2="129.53019609631934" y2="697.3" stroke="#000" stroke-width="1.5"/>
<line x1="130.82921570861953" y1="693.3" x2="130.82921570861953" y2="697.3" stroke="#000" stroke-width="1.5"/>
<line x1="131.97503221144086" y1="693.3" x2="131.97503221144086" y2="697.3" stroke="#000" stroke-width="1.5"/>
<line x1="38.6" y1="693.3" x2="43.4" y2="693.3" stroke="#000" stroke-width="1.5"/>
<line x1="40.4" y1="688.506097319051" x2="43.4" y2="688.506097319051" stroke="#000" stroke-width="1.5"/>
<line x1="40.4" y1="685.7018440185893" x2="43.4" y2="685.7018440185893" stroke="#000" stroke-width="1.5"/>
<line x1="40.4" y1="683.7121946381021" x2="43.4" y2="683.7121946381021" stroke="#000" stroke-width="1.5"/>
<line x1="40.4" y1="682.1689026809489" x2="43.4" y2="682.1689026809489" stroke="#000" stroke-width="1.5"/>
<line x1="40.4" y1="680.9079413376404" x2="43.4" y2="680.9079413376404" stroke="#000" stroke-width="1.5"/>
<line x1="40.4" y1="679.8418137127729" x2="43.4" y2="679.8418137127729" stroke="#000" stroke-width="1.5"/>
<line x1="40.4" y1="678.9182919571533" x2="43.4" y2="678.9182919571533" stroke="#000" stroke-width="1.5"/>
<line x1="40.4" y1="678.1036880371787" x2="43.4" y2="678.1036880371787" stroke="#000" stroke-width="1.5"/>
<line x1="38.6" y1="677.375" x2="43.4" y2="677.375" stroke="#000" stroke-width="1.5"/>
<line x1="40.4" y1="672.5810973190511" x2="43.4" y2="672.5810973190511" stroke="#000" stroke-width="1.5"/>
<line x1="40.4" y1="669.7768440185894" x2="43.4" y2="669.7768440185894" stroke="#000" stroke-width="1.5"/>
<line x1="40.4" y1="667.7871946381022" x2="43.4" y2="667.7871946381022" stroke="#000" stroke-width="1.5"/>
<line x1="40.4" y1="666.2439026809488" x2="43.4" y2="666.2439026809488" stroke="#000" stroke-width="1.5"/>
<line x1="40.4" y1="664.9829413376405" x2="43.4" y2="664.9829413376405" stroke="#000" stroke-width="1.5"/>
<line x1="40.4" y1="663.916813712773" x2="43.4" y2="663.916813712773" stroke="#000" stroke-width="1.5"/>
<line x1="40.4" y1="662.9932919571532" x2="43.4" y2="662.9932919571532" stroke="#000" stroke-width="1.5"/>
<line x1="40.4" y1="662.1786880371787" x2="43.4" y2="662.1786880371787" stroke="#000" stroke-width="1.5"/>
<line x1="38.6" y1="661.45" x2="43.4" y2="661.45" stroke="#000" stroke-width="1.5"/>
<line x1="40.4" y1="656.6560973190511" x2="43.4" y2="656.6560973190511" stroke="#000" stroke-width="1.5"/>
<line x1="40.4" y1="653.8518440185894" x2="43.4" y2="653.8518440185894" stroke="#000" stroke-width="1.5"/>
<line x1="40.4" y1="651.8621946381022" x2="43.4" y2="651.8621946381022" stroke="#000" stroke-width="1.5"/>
<line x1="40.4" y1="650.3189026809489" x2="43.4" y2="650.3189026809489" stroke="#000" stroke-width="1.5"/>
<line x1="40.4" y1="649.0579413376405" x2="43.4" y2="649.0579413376405" stroke="#000" stroke-width="1.5"/>
<line x1="40.4" y1="647.9918137127729" x2="43.4" y2="647.9918137127729" stroke="#000" stroke-width="1.5"/>
<line x1="40.4" y1="647.0682919571533" x2="43.4" y2="647.0682919571533" stroke="#000" stroke-width="1.5"/>
<line x1="40.4" y1="646.2536880371788" x2="43.4" y2="646.2536880371788" stroke="#000" stroke-width="1.5"/>
<line x1="38.6" y1="645.525" x2="43.4" y2="645.525" stroke="#000" stroke-width="1.5"/>
<line x1="40.4" y1="640.7310973190511" x2="43.4" y2="640.7310973190511" stroke="#000" stroke-width="1.5"/>
<line x1="40.4" y1="637.9268440185893" x2="43.4" y2="637.9268440185893" stroke="#000" stroke-width="1.5"/>
<line x1="40.4" y1="635.9371946381023" x2="43.4" y2="635.9371946381023" stroke="#000" stroke-width="1.5"/>
<line x1="40.4" y1="634.3939026809489" x2="43.4" y2="634.3939026809489" stroke="#000" stroke-width="1.5"/>
<line x1="40.4" y1="633.1329413376404" x2="43.4" y2="633.1329413376404" stroke="#000" stroke-width="1.5"/>
<line x1="40.4" y1="632.066813712773" x2="43.4" y2="632.066813712773" stroke="#000" stroke-width="1.5"/>
<line x1="40.4" y1="631.1432919571533" x2="43.4" y2="631.1432919571533" stroke="#000" stroke-width="1.5"/>
<line x1="40.4" y1="630.3286880371787" x2="43.4" y2="630.3286880371787" stroke="#000" stroke-width="1.5"/>
<line x1="38.6" y1="629.6" x2="43.4" y2="629.6" stroke="#000" stroke-width="1.5"/>
<rect x="58.8" y="647.2" width="51.5" height="29.8" fill="none" stroke="#000" stroke-width="1.4"/>
<polygon points="62.3,693.0 60.8,681.9 62.4,680.2 64.1,681.3 65.7,679.9 67.3,680.0 69.0,680.3 70.6,679.1 72.2,680.0 73.9,680.4 75.5,680.9 77.1,678.8 78.8,679.4 80.4,678.8 82.0,680.9 83.7,680.6 85.3,678.6 86.9,681.4 88.5,681.4 90.2,680.5 91.8,680.3 93.4,679.0 95.1,678.5 96.7,680.1 98.3,678.7 100.0,679.1 101.6,679.2 103.2,678.6 104.9,679.9 106.5,681.8 105.0,693.0" fill="#000"/>
<rect x="77.2" y="675.1" width="1.9" height="1.9" fill="#000"/>
<rect x="66.9" y="677.1" width="1.9" height="1.9" fill="#000"/>
<rect x="71.5" y="665.7" width="1.9" height="1.9" fill="#000"/>
<rect x="80.3" y="672.4" width="1.9" height="1.9" fill="#000"/>
<rect x="76.1" y="677.3" width="1.9" height="1.9" fill="#000"/>
<rect x="77.3" y="676.0" width="1.9" height="1.9" fill="#000"/>
<rect x="72.9" y="670.1" width="1.9" height="1.9" fill="#000"/>
<rect x="82.2" y="670.5" width="1.9" height="1.9" fill="#000"/>
<rect x="80.4" y="667.9" width="1.9" height="1.9" fill="#000"/>
<rect x="77.8" y="668.4" width="1.9" height="1.9" fill="#000"/>
<rect x="72.1" y="673.3" width="1.9" height="1.9" fill="#000"/>
<rect x="64.4" y="678.7" width="1.9" height="1.9" fill="#000"/>
<rect x="82.4" y="668.0" width="1.9" height="1.9" fill="#000"/>
<rect x="65.9" y="675.5" width="1.9" height="1.9" fill="#000"/>
<rect x="83.0" y="679.9" width="1.9" height="1.9" fill="#000"/>
<rect x="72.5" y="669.4" width="1.9" height="1.9" fill="#000"/>
<rect x="70.3" y="669.9" width="1.9" height="1.9" fill="#000"/>
<rect x="67.3" y="676.7" width="1.9" height="1.9" fill="#000"/>
<rect x="65.1" y="677.4" width="1.9" height="1.9" fill="#000"/>
<rect x="80.4" y="670.7" width="1.9" height="1.9" fill="#000"/>
<rect x="72.4" y="674.2" width="1.9" height="1.9" fill="#000"/>
<rect x="73.6" y="676.4" width="1.9" height="1.9" fill="#000"/>
<rect x="64.7" y="674.0" width="1.9" height="1.9" fill="#000"/>
<rect x="83.4" y="677.7" width="1.9" height="1.9" fill="#000"/>
<rect x="77.3" y="679.9" width="1.9" height="1.9" fill="#000"/>
<rect x="71.3" y="673.6" width="1.9" height="1.9" fill="#000"/>
<rect x="77.5" y="677.3" width="1.9" height="1.9" fill="#000"/>
<rect x="68.7" y="669.4" width="1.9" height="1.9" fill="#000"/>
<rect x="74.3" y="673.7" width="1.9" height="1.9" fill="#000"/>
<rect x="74.1" y="678.5" width="1.9" height="1.9" fill="#000"/>
<rect x="80.5" y="666.7" width="1.9" height="1.9" fill="#000"/>
<rect x="74.4" y="674.5" width="1.9" height="1.9" fill="#000"/>
<rect x="72.6" y="671.6" width="1.9" height="1.9" fill="#000"/>
<rect x="79.5" y="674.0" width="1.9" height="1.9" fill="#000"/>
<rect x="75.0" y="669.2" width="1.9" height="1.9" fill="#000"/>
<rect x="78.0" y="670.8" width="1.9" height="1.9" fill="#000"/>
<rect x="69.6" y="667.1" width="1.9" height="1.9" fill="#000"/>
<rect x="76.8" y="673.4" width="1.9" height="1.9" fill="#000"/>
<rect x="73.2" y="667.7" width="1.9" height="1.9" fill="#000"/>
<rect x="69.7" y="671.4" width="1.9" height="1.9" fill="#000"/>
<rect x="83.2" y="675.1" width="1.9" height="1.9" fill="#000"/>
<rect x="83.2" y="675.1" width="1.9" height="1.9" fill="#000"/>
<rect x="82.5" y="670.6" width="1.9" height="1.9" fill="#000"/>
<rect x="67.8" y="673.7" width="1.9" height="1.9" fill="#000"/>
<rect x="82.3" y="677.9" width="1.9" height="1.9" fill="#000"/>
<rect x="69.4" y="665.4" width="1.9" height="1.9" fill="#000"/>
<rect x="70.9" y="678.1" width="1.9" height="1.9" fill="#000"/>
<rect x="64.2" y="671.9" width="1.9" height="1.9" fill="#000"/>
<rect x="76.4" y="667.3" width="1.9" height="1.9" fill="#000"/>
<rect x="84.0" y="679.9" width="1.9" height="1.9" fill="#000"/>
<rect x="64.5" y="675.4" width="1.9" height="1.9" fill="#000"/>
<rect x="79.8" y="673.1" width="1.9" height="1.9" fill="#000"/>
<rect x="76.8" y="678.6" width="1.9" height="1.9" fill="#000"/>
<rect x="74.6" y="671.7" width="1.9" height="1.9" fill="#000"/>
<rect x="76.6" y="675.1" width="1.9" height="1.9" fill="#000"/>
<rect x="83.0" y="672.3" width="1.9" height="1.9" fill="#000"/>
<rect x="67.3" y="679.2" width="1.9" height="1.9" fill="#000"/>
<rect x="81.5" y="672.7" width="1.9" height="1.9" fill="#000"/>
<rect x="82.9" y="672.5" width="1.9" height="1.9" fill="#000"/>
<rect x="78.0" y="675.5" width="1.9" height="1.9" fill="#000"/>
<rect x="68.3" y="677.5" width="1.9" height="1.9" fill="#000"/>
<rect x="69.1" y="672.6" width="1.9" height="1.9" fill="#000"/>
<rect x="77.9" y="677.3" width="1.9" height="1.9" fill="#000"/>
<rect x="81.8" y="669.9" width="1.9" height="1.9" fill="#000"/>
<rect x="68.9" y="674.4" width="1.9" height="1.9" fill="#000"/>
<rect x="83.6" y="674.6" width="1.9" height="1.9" fill="#000"/>
<rect x="76.5" y="676.0" width="1.9" height="1.9" fill="#000"/>
<rect x="83.3" y="679.4" width="1.9" height="1.9" fill="#000"/>
<rect x="72.4" y="678.0" width="1.9" height="1.9" fill="#000"/>
<rect x="82.1" y="676.3" width="1.9" height="1.9" fill="#000"/>
<rect x="95.3" y="671.7" width="1.9" height="1.9" fill="#000"/>
<rect x="97.2" y="677.1" width="1.9" height="1.9" fill="#000"/>
<rect x="89.8" y="670.4" width="1.9" height="1.9" fill="#000"/>
<rect x="89.8" y="669.6" width="1.9" height="1.9" fill="#000"/>
<rect x="88.6" y="677.6" width="1.9" height="1.9" fill="#000"/>
<rect x="89.6" y="675.4" width="1.9" height="1.9" fill="#000"/>
<rect x="92.2" y="672.3" width="1.9" height="1.9" fill="#000"/>
<rect x="94.4" y="678.6" width="1.9" height="1.9" fill="#000"/>
<rect x="90.4" y="665.1" width="1.9" height="1.9" fill="#000"/>
<rect x="97.5" y="669.6" width="1.9" height="1.9" fill="#000"/>
<rect x="96.7" y="678.3" width="1.9" height="1.9" fill="#000"/>
<rect x="96.0" y="678.5" width="1.9" height="1.9" fill="#000"/>
<rect x="96.6" y="679.6" width="1.9" height="1.9" fill="#000"/>
<rect x="97.2" y="671.7" width="1.9" height="1.9" fill="#000"/>
<rect x="96.1" y="674.9" width="1.9" height="1.9" fill="#000"/>
<rect x="92.2" y="675.8" width="1.9" height="1.9" fill="#000"/>
<rect x="92.2" y="673.3" width="1.9" height="1.9" fill="#000"/>
<rect x="88.5" y="672.6" width="1.9" height="1.9" fill="#000"/>
<rect x="96.6" y="678.4" width="1.9" height="1.9" fill="#000"/>
<rect x="95.3" y="679.9" width="1.9" height="1.9" fill="#000"/>
<rect x="96.0" y="675.7" width="1.9" height="1.9" fill="#000"/>
<rect x="95.2" y="669.3" width="1.9" height="1.9" fill="#000"/>
<rect x="89.2" y="674.4" width="1.9" height="1.9" fill="#000"/>
<rect x="93.3" y="670.7" width="1.9" height="1.9" fill="#000"/>
<rect x="92.6" y="671.6" width="1.9" height="1.9" fill="#000"/>
<rect x="91.8" y="676.3" width="1.9" height="1.9" fill="#000"/>
<rect x="92.9" y="669.2" width="1.9" height="1.9" fill="#000"/>
<rect x="89.9" y="671.3" width="1.9" height="1.9" fill="#000"/>
<rect x="91.4" y="670.5" width="1.9" height="1.9" fill="#000"/>
<rect x="94.9" y="667.7" width="1.9" height="1.9" fill="#000"/>
<rect x="91.7" y="679.7" width="1.9" height="1.9" fill="#000"/>
<rect x="98.2" y="677.5" width="1.9" height="1.9" fill="#000"/>
<rect x="88.8" y="666.6" width="1.9" height="1.9" fill="#000"/>
<rect x="97.1" y="678.3" width="1.9" height="1.9" fill="#000"/>
<rect x="89.0" y="676.6" width="1.9" height="1.9" fill="#000"/>
<rect x="97.5" y="674.0" width="1.9" height="1.9" fill="#000"/>
<rect x="96.7" y="679.1" width="1.9" height="1.9" fill="#000"/>
<rect x="97.3" y="670.7" width="1.9" height="1.9" fill="#000"/>
<rect x="95.6" y="673.5" width="1.9" height="1.9" fill="#000"/>
<rect x="98.7" y="669.3" width="1.9" height="1.9" fill="#000"/>
<rect x="73.2" y="648.8" width="1.9" height="1.9" fill="#000"/>
<rect x="68.5" y="656.5" width="1.9" height="1.9" fill="#000"/>
<rect x="69.0" y="660.0" width="1.9" height="1.9" fill="#000"/>
<rect x="90.5" y="660.0" width="1.9" height="1.9" fill="#000"/>
<rect x="95.0" y="663.0" width="1.9" height="1.9" fill="#000"/>
<rect x="67.0" y="663.0" width="1.9" height="1.9" fill="#000"/>
<rect x="71.0" y="663.0" width="1.9" height="1.9" fill="#000"/>
<rect x="75.0" y="663.0" width="1.9" height="1.9" fill="#000"/>
<rect x="79.0" y="663.0" width="1.9" height="1.9" fill="#000"/>
<rect x="94.5" y="666.5" width="1.9" height="1.9" fill="#000"/>
<rect x="92.0" y="665.5" width="1.9" height="1.9" fill="#000"/>
<rect x="96.0" y="667.0" width="1.9" height="1.9" fill="#000"/>
<text x="129.4" y="644" font-size="15.5" font-family='"Liberation Serif", serif' font-weight="normal" text-anchor="end" textLength="31.7" lengthAdjust="spacingAndGlyphs" >3.3%</text>
<rect x="150.3" y="631.4" width="87.89999999999998" height="63.200000000000045" fill="none" stroke="#000" stroke-width="1.8"/>
<line x1="150.3" y1="694.6" x2="150.3" y2="699.6" stroke="#000" stroke-width="1.5"/>
<line x1="156.915134154716" y1="694.6" x2="156.915134154716" y2="698.6" stroke="#000" stroke-width="1.5"/>
<line x1="160.7847395724646" y1="694.6" x2="160.7847395724646" y2="698.6" stroke="#000" stroke-width="1.5"/>
<line x1="163.530268309432" y1="694.6" x2="163.530268309432" y2="698.6" stroke="#000" stroke-width="1.5"/>
<line x1="165.65986584528403" y1="694.6" x2="165.65986584528403" y2="698.6" stroke="#000" stroke-width="1.5"/>
<line x1="167.3998737271806" y1="694.6" x2="167.3998737271806" y2="698.6" stroke="#000" stroke-width="1.5"/>
<line x1="168.8710294293133" y1="694.6" x2="168.8710294293133" y2="698.6" stroke="#000" stroke-width="1.5"/>
<line x1="170.14540246414796" y1="694.6" x2="170.14540246414796" y2="698.6" stroke="#000" stroke-width="1.5"/>
<line x1="171.26947914492916" y1="694.6" x2="171.26947914492916" y2="698.6" stroke="#000" stroke-width="1.5"/>
<line x1="172.275" y1="694.6" x2="172.275" y2="699.6" stroke="#000" stroke-width="1.5"/>
<line x1="178.89013415471598" y1="694.6" x2="178.89013415471598" y2="698.6" stroke="#000" stroke-width="1.5"/>
<line x1="182.75973957246458" y1="694.6" x2="182.75973957246458" y2="698.6" stroke="#000" stroke-width="1.5"/>
<line x1="185.50526830943198" y1="694.6" x2="185.50526830943198" y2="698.6" stroke="#000" stroke-width="1.5"/>
<line x1="187.63486584528403" y1="694.6" x2="187.63486584528403" y2="698.6" stroke="#000" stroke-width="1.5"/>
<line x1="189.37487372718056" y1="694.6" x2="189.37487372718056" y2="698.6" stroke="#000" stroke-width="1.5"/>
<line x1="190.8460294293133" y1="694.6" x2="190.8460294293133" y2="698.6" stroke="#000" stroke-width="1.5"/>
<line x1="192.12040246414796" y1="694.6" x2="192.12040246414796" y2="698.6" stroke="#000" stroke-width="1.5"/>
<line x1="193.24447914492916" y1="694.6" x2="193.24447914492916" y2="698.6" stroke="#000" stroke-width="1.5"/>
<line x1="194.25" y1="694.6" x2="194.25" y2="699.6" stroke="#000" stroke-width="1.5"/>
<line x1="200.86513415471597" y1="694.6" x2="200.86513415471597" y2="698.6" stroke="#000" stroke-width="1.5"/>
<line x1="204.73473957246458" y1="694.6" x2="204.73473957246458" y2="698.6" stroke="#000" stroke-width="1.5"/>
<line x1="207.48026830943198" y1="694.6" x2="207.48026830943198" y2="698.6" stroke="#000" stroke-width="1.5"/>
<line x1="209.609865845284" y1="694.6" x2="209.609865845284" y2="698.6" stroke="#000" stroke-width="1.5"/>
<line x1="211.34987372718058" y1="694.6" x2="211.34987372718058" y2="698.6" stroke="#000" stroke-width="1.5"/>
<line x1="212.82102942931328" y1="694.6" x2="212.82102942931328" y2="698.6" stroke="#000" stroke-width="1.5"/>
<line x1="214.09540246414795" y1="694.6" x2="214.09540246414795" y2="698.6" stroke="#000" stroke-width="1.5"/>
<line x1="215.21947914492915" y1="694.6" x2="215.21947914492915" y2="698.6" stroke="#000" stroke-width="1.5"/>
<line x1="216.225" y1="694.6" x2="216.225" y2="699.6" stroke="#000" stroke-width="1.5"/>
<line x1="222.840134154716" y1="694.6" x2="222.840134154716" y2="698.6" stroke="#000" stroke-width="1.5"/>
<line x1="226.70973957246457" y1="694.6" x2="226.70973957246457" y2="698.6" stroke="#000" stroke-width="1.5"/>
<line x1="229.45526830943197" y1="694.6" x2="229.45526830943197" y2="698.6" stroke="#000" stroke-width="1.5"/>
<line x1="231.584865845284" y1="694.6" x2="231.584865845284" y2="698.6" stroke="#000" stroke-width="1.5"/>
<line x1="233.32487372718055" y1="694.6" x2="233.32487372718055" y2="698.6" stroke="#000" stroke-width="1.5"/>
<line x1="234.79602942931328" y1="694.6" x2="234.79602942931328" y2="698.6" stroke="#000" stroke-width="1.5"/>
<line x1="236.07040246414795" y1="694.6" x2="236.07040246414795" y2="698.6" stroke="#000" stroke-width="1.5"/>
<line x1="237.19447914492915" y1="694.6" x2="237.19447914492915" y2="698.6" stroke="#000" stroke-width="1.5"/>
<line x1="145.5" y1="694.6" x2="150.3" y2="694.6" stroke="#000" stroke-width="1.5"/>
<line x1="147.3" y1="689.8437260685091" x2="150.3" y2="689.8437260685091" stroke="#000" stroke-width="1.5"/>
<line x1="147.3" y1="687.0614841754293" x2="150.3" y2="687.0614841754293" stroke="#000" stroke-width="1.5"/>
<line x1="147.3" y1="685.0874521370182" x2="150.3" y2="685.0874521370182" stroke="#000" stroke-width="1.5"/>
<line x1="147.3" y1="683.5562739314909" x2="150.3" y2="683.5562739314909" stroke="#000" stroke-width="1.5"/>
<line x1="147.3" y1="682.3052102439384" x2="150.3" y2="682.3052102439384" stroke="#000" stroke-width="1.5"/>
<line x1="147.3" y1="681.2474509677747" x2="150.3" y2="681.2474509677747" stroke="#000" stroke-width="1.5"/>
<line x1="147.3" y1="680.3311782055273" x2="150.3" y2="680.3311782055273" stroke="#000" stroke-width="1.5"/>
<line x1="147.3" y1="679.5229683508587" x2="150.3" y2="679.5229683508587" stroke="#000" stroke-width="1.5"/>
<line x1="145.5" y1="678.8" x2="150.3" y2="678.8" stroke="#000" stroke-width="1.5"/>
<line x1="147.3" y1="674.0437260685092" x2="150.3" y2="674.0437260685092" stroke="#000" stroke-width="1.5"/>
<line x1="147.3" y1="671.2614841754294" x2="150.3" y2="671.2614841754294" stroke="#000" stroke-width="1.5"/>
<line x1="147.3" y1="669.2874521370182" x2="150.3" y2="669.2874521370182" stroke="#000" stroke-width="1.5"/>
<line x1="147.3" y1="667.7562739314909" x2="150.3" y2="667.7562739314909" stroke="#000" stroke-width="1.5"/>
<line x1="147.3" y1="666.5052102439384" x2="150.3" y2="666.5052102439384" stroke="#000" stroke-width="1.5"/>
<line x1="147.3" y1="665.4474509677748" x2="150.3" y2="665.4474509677748" stroke="#000" stroke-width="1.5"/>
<line x1="147.3" y1="664.5311782055273" x2="150.3" y2="664.5311782055273" stroke="#000" stroke-width="1.5"/>
<line x1="147.3" y1="663.7229683508587" x2="150.3" y2="663.7229683508587" stroke="#000" stroke-width="1.5"/>
<line x1="145.5" y1="663.0" x2="150.3" y2="663.0" stroke="#000" stroke-width="1.5"/>
<line x1="147.3" y1="658.2437260685091" x2="150.3" y2="658.2437260685091" stroke="#000" stroke-width="1.5"/>
<line x1="147.3" y1="655.4614841754293" x2="150.3" y2="655.4614841754293" stroke="#000" stroke-width="1.5"/>
<line x1="147.3" y1="653.4874521370182" x2="150.3" y2="653.4874521370182" stroke="#000" stroke-width="1.5"/>
<line x1="147.3" y1="651.9562739314908" x2="150.3" y2="651.9562739314908" stroke="#000" stroke-width="1.5"/>
<line x1="147.3" y1="650.7052102439384" x2="150.3" y2="650.7052102439384" stroke="#000" stroke-width="1.5"/>
<line x1="147.3" y1="649.6474509677747" x2="150.3" y2="649.6474509677747" stroke="#000" stroke-width="1.5"/>
<line x1="147.3" y1="648.7311782055273" x2="150.3" y2="648.7311782055273" stroke="#000" stroke-width="1.5"/>
<line x1="147.3" y1="647.9229683508587" x2="150.3" y2="647.9229683508587" stroke="#000" stroke-width="1.5"/>
<line x1="145.5" y1="647.2" x2="150.3" y2="647.2" stroke="#000" stroke-width="1.5"/>
<line x1="147.3" y1="642.443726068509" x2="150.3" y2="642.443726068509" stroke="#000" stroke-width="1.5"/>
<line x1="147.3" y1="639.6614841754293" x2="150.3" y2="639.6614841754293" stroke="#000" stroke-width="1.5"/>
<line x1="147.3" y1="637.6874521370182" x2="150.3" y2="637.6874521370182" stroke="#000" stroke-width="1.5"/>
<line x1="147.3" y1="636.1562739314909" x2="150.3" y2="636.1562739314909" stroke="#000" stroke-width="1.5"/>
<line x1="147.3" y1="634.9052102439384" x2="150.3" y2="634.9052102439384" stroke="#000" stroke-width="1.5"/>
<line x1="147.3" y1="633.8474509677748" x2="150.3" y2="633.8474509677748" stroke="#000" stroke-width="1.5"/>
<line x1="147.3" y1="632.9311782055273" x2="150.3" y2="632.9311782055273" stroke="#000" stroke-width="1.5"/>
<line x1="147.3" y1="632.1229683508586" x2="150.3" y2="632.1229683508586" stroke="#000" stroke-width="1.5"/>
<line x1="145.5" y1="631.4" x2="150.3" y2="631.4" stroke="#000" stroke-width="1.5"/>
<rect x="164.4" y="647.2" width="51.4" height="29.8" fill="none" stroke="#000" stroke-width="1.4"/>
<polygon points="170.3,694.0 168.8,679.8 170.4,679.7 172.0,679.5 173.7,678.9 175.3,678.0 176.9,680.1 178.5,680.1 180.2,679.0 181.8,679.0 183.4,678.0 185.0,677.2 186.7,678.5 188.3,679.3 189.9,677.4 191.5,680.1 193.1,678.0 194.8,678.0 196.4,677.4 198.0,680.8 199.6,679.9 201.3,680.4 202.9,679.4 204.5,677.3 206.1,684.0 207.8,685.6 209.4,682.8 211.0,684.6 209.5,694.0" fill="#000"/>
<rect x="175.5" y="678.6" width="1.9" height="1.9" fill="#000"/>
<rect x="209.0" y="663.0" width="1.9" height="1.9" fill="#000"/>
<rect x="174.8" y="668.2" width="1.9" height="1.9" fill="#000"/>
<rect x="183.5" y="675.4" width="1.9" height="1.9" fill="#000"/>
<rect x="179.1" y="678.0" width="1.9" height="1.9" fill="#000"/>
<rect x="182.5" y="678.7" width="1.9" height="1.9" fill="#000"/>
<rect x="206.4" y="674.8" width="1.9" height="1.9" fill="#000"/>
<rect x="206.1" y="675.8" width="1.9" height="1.9" fill="#000"/>
<rect x="171.9" y="676.0" width="1.9" height="1.9" fill="#000"/>
<rect x="193.0" y="677.9" width="1.9" height="1.9" fill="#000"/>
<rect x="177.5" y="670.6" width="1.9" height="1.9" fill="#000"/>
<rect x="192.8" y="677.6" width="1.9" height="1.9" fill="#000"/>
<rect x="200.2" y="678.5" width="1.9" height="1.9" fill="#000"/>
<rect x="192.1" y="678.7" width="1.9" height="1.9" fill="#000"/>
<rect x="193.9" y="675.9" width="1.9" height="1.9" fill="#000"/>
<rect x="207.4" y="669.7" width="1.9" height="1.9" fill="#000"/>
<rect x="200.5" y="670.7" width="1.9" height="1.9" fill="#000"/>
<rect x="195.4" y="678.6" width="1.9" height="1.9" fill="#000"/>
<rect x="202.2" y="667.2" width="1.9" height="1.9" fill="#000"/>
<rect x="177.3" y="675.6" width="1.9" height="1.9" fill="#000"/>
<rect x="190.8" y="664.3" width="1.9" height="1.9" fill="#000"/>
<rect x="206.1" y="663.5" width="1.9" height="1.9" fill="#000"/>
<rect x="190.2" y="673.6" width="1.9" height="1.9" fill="#000"/>
<rect x="195.8" y="672.2" width="1.9" height="1.9" fill="#000"/>
<rect x="182.0" y="678.2" width="1.9" height="1.9" fill="#000"/>
<rect x="192.8" y="671.7" width="1.9" height="1.9" fill="#000"/>
<rect x="193.3" y="670.4" width="1.9" height="1.9" fill="#000"/>
<rect x="187.0" y="674.1" width="1.9" height="1.9" fill="#000"/>
<rect x="190.7" y="675.6" width="1.9" height="1.9" fill="#000"/>
<rect x="208.9" y="665.7" width="1.9" height="1.9" fill="#000"/>
<rect x="186.9" y="671.4" width="1.9" height="1.9" fill="#000"/>
<rect x="206.3" y="672.1" width="1.9" height="1.9" fill="#000"/>
<rect x="190.0" y="678.6" width="1.9" height="1.9" fill="#000"/>
<rect x="173.8" y="672.1" width="1.9" height="1.9" fill="#000"/>
<rect x="176.7" y="678.0" width="1.9" height="1.9" fill="#000"/>
<rect x="183.7" y="674.1" width="1.9" height="1.9" fill="#000"/>
<rect x="184.0" y="670.9" width="1.9" height="1.9" fill="#000"/>
<rect x="171.5" y="668.4" width="1.9" height="1.9" fill="#000"/>
<rect x="201.1" y="674.0" width="1.9" height="1.9" fill="#000"/>
<rect x="177.9" y="675.3" width="1.9" height="1.9" fill="#000"/>
<rect x="172.1" y="675.9" width="1.9" height="1.9" fill="#000"/>
<rect x="202.3" y="672.2" width="1.9" height="1.9" fill="#000"/>
<rect x="188.0" y="678.3" width="1.9" height="1.9" fill="#000"/>
<rect x="189.5" y="677.5" width="1.9" height="1.9" fill="#000"/>
<rect x="192.8" y="673.8" width="1.9" height="1.9" fill="#000"/>
<rect x="199.1" y="679.0" width="1.9" height="1.9" fill="#000"/>
<rect x="198.4" y="673.1" width="1.9" height="1.9" fill="#000"/>
<rect x="183.8" y="675.3" width="1.9" height="1.9" fill="#000"/>
<rect x="202.0" y="676.9" width="1.9" height="1.9" fill="#000"/>
<rect x="206.8" y="674.9" width="1.9" height="1.9" fill="#000"/>
<rect x="189.6" y="662.6" width="1.9" height="1.9" fill="#000"/>
<rect x="183.3" y="675.2" width="1.9" height="1.9" fill="#000"/>
<rect x="197.0" y="667.9" width="1.9" height="1.9" fill="#000"/>
<rect x="180.5" y="672.6" width="1.9" height="1.9" fill="#000"/>
<rect x="207.8" y="663.9" width="1.9" height="1.9" fill="#000"/>
<rect x="174.7" y="671.3" width="1.9" height="1.9" fill="#000"/>
<rect x="180.0" y="668.9" width="1.9" height="1.9" fill="#000"/>
<rect x="177.1" y="677.7" width="1.9" height="1.9" fill="#000"/>
<rect x="173.8" y="670.0" width="1.9" height="1.9" fill="#000"/>
<rect x="178.2" y="673.1" width="1.9" height="1.9" fill="#000"/>
<rect x="198.7" y="671.2" width="1.9" height="1.9" fill="#000"/>
<rect x="202.6" y="678.3" width="1.9" height="1.9" fill="#000"/>
<rect x="184.8" y="663.8" width="1.9" height="1.9" fill="#000"/>
<rect x="171.3" y="677.6" width="1.9" height="1.9" fill="#000"/>
<rect x="189.2" y="668.6" width="1.9" height="1.9" fill="#000"/>
<rect x="199.3" y="671.8" width="1.9" height="1.9" fill="#000"/>
<rect x="188.2" y="676.2" width="1.9" height="1.9" fill="#000"/>
<rect x="179.0" y="669.5" width="1.9" height="1.9" fill="#000"/>
<rect x="172.6" y="669.9" width="1.9" height="1.9" fill="#000"/>
<rect x="176.2" y="675.6" width="1.9" height="1.9" fill="#000"/>
<rect x="195.2" y="678.0" width="1.9" height="1.9" fill="#000"/>
<rect x="189.5" y="664.6" width="1.9" height="1.9" fill="#000"/>
<rect x="171.7" y="674.8" width="1.9" height="1.9" fill="#000"/>
<rect x="171.2" y="673.3" width="1.9" height="1.9" fill="#000"/>
<rect x="170.2" y="676.7" width="1.9" height="1.9" fill="#000"/>
<rect x="208.5" y="675.2" width="1.9" height="1.9" fill="#000"/>
<rect x="179.1" y="677.5" width="1.9" height="1.9" fill="#000"/>
<rect x="175.5" y="673.9" width="1.9" height="1.9" fill="#000"/>
<rect x="203.7" y="671.2" width="1.9" height="1.9" fill="#000"/>
<rect x="170.4" y="677.2" width="1.9" height="1.9" fill="#000"/>
<rect x="195.0" y="671.8" width="1.9" height="1.9" fill="#000"/>
<rect x="201.4" y="668.0" width="1.9" height="1.9" fill="#000"/>
<rect x="191.6" y="678.0" width="1.9" height="1.9" fill="#000"/>
<rect x="203.1" y="671.5" width="1.9" height="1.9" fill="#000"/>
<rect x="177.4" y="673.7" width="1.9" height="1.9" fill="#000"/>
<rect x="176.3" y="670.1" width="1.9" height="1.9" fill="#000"/>
<rect x="189.9" y="677.5" width="1.9" height="1.9" fill="#000"/>
<rect x="201.9" y="675.9" width="1.9" height="1.9" fill="#000"/>
<rect x="177.5" y="678.8" width="1.9" height="1.9" fill="#000"/>
<rect x="204.1" y="672.2" width="1.9" height="1.9" fill="#000"/>
<rect x="185.1" y="676.6" width="1.9" height="1.9" fill="#000"/>
<rect x="177.7" y="675.4" width="1.9" height="1.9" fill="#000"/>
<rect x="172.0" y="667.7" width="1.9" height="1.9" fill="#000"/>
<rect x="179.3" y="671.8" width="1.9" height="1.9" fill="#000"/>
<rect x="207.9" y="673.7" width="1.9" height="1.9" fill="#000"/>
<rect x="191.8" y="667.5" width="1.9" height="1.9" fill="#000"/>
<rect x="193.4" y="677.7" width="1.9" height="1.9" fill="#000"/>
<rect x="200.0" y="673.8" width="1.9" height="1.9" fill="#000"/>
<rect x="207.0" y="662.9" width="1.9" height="1.9" fill="#000"/>
<rect x="201.5" y="675.8" width="1.9" height="1.9" fill="#000"/>
<rect x="173.9" y="677.3" width="1.9" height="1.9" fill="#000"/>
<rect x="177.0" y="665.0" width="1.9" height="1.9" fill="#000"/>
<rect x="206.6" y="673.5" width="1.9" height="1.9" fill="#000"/>
<rect x="186.1" y="678.2" width="1.9" height="1.9" fill="#000"/>
<rect x="198.9" y="675.0" width="1.9" height="1.9" fill="#000"/>
<rect x="207.9" y="671.0" width="1.9" height="1.9" fill="#000"/>
<rect x="198.4" y="678.5" width="1.9" height="1.9" fill="#000"/>
<rect x="201.3" y="678.1" width="1.9" height="1.9" fill="#000"/>
<rect x="182.6" y="675.4" width="1.9" height="1.9" fill="#000"/>
<rect x="179.4" y="670.1" width="1.9" height="1.9" fill="#000"/>
<rect x="206.2" y="664.6" width="1.9" height="1.9" fill="#000"/>
<rect x="171.0" y="670.4" width="1.9" height="1.9" fill="#000"/>
<rect x="174.1" y="670.7" width="1.9" height="1.9" fill="#000"/>
<rect x="183.0" y="672.7" width="1.9" height="1.9" fill="#000"/>
<rect x="188.6" y="668.0" width="1.9" height="1.9" fill="#000"/>
<rect x="183.9" y="672.3" width="1.9" height="1.9" fill="#000"/>
<rect x="182.0" y="677.2" width="1.9" height="1.9" fill="#000"/>
<rect x="204.3" y="674.0" width="1.9" height="1.9" fill="#000"/>
<rect x="184.7" y="678.7" width="1.9" height="1.9" fill="#000"/>
<rect x="207.1" y="663.9" width="1.9" height="1.9" fill="#000"/>
<rect x="178.5" y="673.7" width="1.9" height="1.9" fill="#000"/>
<rect x="179.4" y="666.9" width="1.9" height="1.9" fill="#000"/>
<rect x="175.5" y="670.6" width="1.9" height="1.9" fill="#000"/>
<rect x="208.8" y="664.3" width="1.9" height="1.9" fill="#000"/>
<rect x="174.5" y="677.3" width="1.9" height="1.9" fill="#000"/>
<rect x="201.3" y="673.2" width="1.9" height="1.9" fill="#000"/>
<rect x="172.7" y="673.5" width="1.9" height="1.9" fill="#000"/>
<rect x="184.9" y="671.1" width="1.9" height="1.9" fill="#000"/>
<rect x="192.8" y="678.2" width="1.9" height="1.9" fill="#000"/>
<rect x="194.6" y="672.9" width="1.9" height="1.9" fill="#000"/>
<rect x="196.8" y="664.2" width="1.9" height="1.9" fill="#000"/>
<rect x="196.2" y="677.1" width="1.9" height="1.9" fill="#000"/>
<rect x="181.2" y="671.5" width="1.9" height="1.9" fill="#000"/>
<rect x="173.2" y="662.0" width="1.9" height="1.9" fill="#000"/>
<rect x="187.7" y="667.5" width="1.9" height="1.9" fill="#000"/>
<rect x="178.5" y="676.8" width="1.9" height="1.9" fill="#000"/>
<rect x="194.8" y="673.1" width="1.9" height="1.9" fill="#000"/>
<rect x="170.9" y="675.1" width="1.9" height="1.9" fill="#000"/>
<rect x="192.9" y="678.3" width="1.9" height="1.9" fill="#000"/>
<rect x="179.4" y="670.5" width="1.9" height="1.9" fill="#000"/>
<rect x="206.4" y="675.8" width="1.9" height="1.9" fill="#000"/>
<rect x="185.6" y="671.1" width="1.9" height="1.9" fill="#000"/>
<rect x="176.9" y="674.2" width="1.9" height="1.9" fill="#000"/>
<rect x="205.8" y="672.2" width="1.9" height="1.9" fill="#000"/>
<rect x="202.1" y="674.2" width="1.9" height="1.9" fill="#000"/>
<rect x="203.9" y="669.8" width="1.9" height="1.9" fill="#000"/>
<rect x="178.8" y="676.9" width="1.9" height="1.9" fill="#000"/>
<rect x="196.6" y="673.9" width="1.9" height="1.9" fill="#000"/>
<rect x="193.5" y="674.4" width="1.9" height="1.9" fill="#000"/>
<rect x="191.7" y="669.4" width="1.9" height="1.9" fill="#000"/>
<rect x="201.2" y="671.4" width="1.9" height="1.9" fill="#000"/>
<rect x="208.2" y="671.6" width="1.9" height="1.9" fill="#000"/>
<rect x="178.9" y="674.5" width="1.9" height="1.9" fill="#000"/>
<rect x="175.0" y="672.3" width="1.9" height="1.9" fill="#000"/>
<rect x="171.8" y="676.4" width="1.9" height="1.9" fill="#000"/>
<rect x="182.1" y="674.8" width="1.9" height="1.9" fill="#000"/>
<rect x="175.0" y="676.8" width="1.9" height="1.9" fill="#000"/>
<rect x="197.9" y="675.7" width="1.9" height="1.9" fill="#000"/>
<rect x="175.1" y="669.2" width="1.9" height="1.9" fill="#000"/>
<rect x="195.4" y="671.6" width="1.9" height="1.9" fill="#000"/>
<rect x="170.4" y="669.8" width="1.9" height="1.9" fill="#000"/>
<rect x="201.6" y="672.7" width="1.9" height="1.9" fill="#000"/>
<rect x="206.7" y="667.6" width="1.9" height="1.9" fill="#000"/>
<rect x="176.3" y="673.6" width="1.9" height="1.9" fill="#000"/>
<rect x="184.5" y="666.1" width="1.9" height="1.9" fill="#000"/>
<rect x="176.9" y="673.2" width="1.9" height="1.9" fill="#000"/>
<rect x="189.6" y="665.6" width="1.9" height="1.9" fill="#000"/>
<rect x="187.4" y="669.6" width="1.9" height="1.9" fill="#000"/>
<rect x="197.2" y="672.8" width="1.9" height="1.9" fill="#000"/>
<rect x="179.0" y="674.5" width="1.9" height="1.9" fill="#000"/>
<rect x="185.7" y="648.8" width="1.9" height="1.9" fill="#000"/>
<rect x="175.6" y="651.8" width="1.9" height="1.9" fill="#000"/>
<rect x="177.1" y="656.0" width="1.9" height="1.9" fill="#000"/>
<rect x="184.1" y="655.0" width="1.9" height="1.9" fill="#000"/>
<rect x="175.1" y="659.0" width="1.9" height="1.9" fill="#000"/>
<rect x="183.1" y="660.0" width="1.9" height="1.9" fill="#000"/>
<rect x="200.1" y="661.0" width="1.9" height="1.9" fill="#000"/>
<rect x="206.1" y="663.0" width="1.9" height="1.9" fill="#000"/>
<text x="235" y="645.5" font-size="15.5" font-family='"Liberation Serif", serif' font-weight="normal" text-anchor="end" textLength="18.7" lengthAdjust="spacingAndGlyphs" >7%</text>
<rect x="44.6" y="716" width="86.80000000000001" height="62.60000000000002" fill="none" stroke="#000" stroke-width="1.8"/>
<line x1="44.6" y1="778.6" x2="44.6" y2="783.6" stroke="#000" stroke-width="1.5"/>
<line x1="51.132350905908396" y1="778.6" x2="51.132350905908396" y2="782.6" stroke="#000" stroke-width="1.5"/>
<line x1="54.953531227416676" y1="778.6" x2="54.953531227416676" y2="782.6" stroke="#000" stroke-width="1.5"/>
<line x1="57.664701811816784" y1="778.6" x2="57.664701811816784" y2="782.6" stroke="#000" stroke-width="1.5"/>
<line x1="59.76764909409161" y1="778.6" x2="59.76764909409161" y2="782.6" stroke="#000" stroke-width="1.5"/>
<line x1="61.48588213332507" y1="778.6" x2="61.48588213332507" y2="782.6" stroke="#000" stroke-width="1.5"/>
<line x1="62.93862746830938" y1="778.6" x2="62.93862746830938" y2="782.6" stroke="#000" stroke-width="1.5"/>
<line x1="64.19705271772517" y1="778.6" x2="64.19705271772517" y2="782.6" stroke="#000" stroke-width="1.5"/>
<line x1="65.30706245483336" y1="778.6" x2="65.30706245483336" y2="782.6" stroke="#000" stroke-width="1.5"/>
<line x1="66.30000000000001" y1="778.6" x2="66.30000000000001" y2="783.6" stroke="#000" stroke-width="1.5"/>
<line x1="72.8323509059084" y1="778.6" x2="72.8323509059084" y2="782.6" stroke="#000" stroke-width="1.5"/>
<line x1="76.65353122741668" y1="778.6" x2="76.65353122741668" y2="782.6" stroke="#000" stroke-width="1.5"/>
<line x1="79.36470181181679" y1="778.6" x2="79.36470181181679" y2="782.6" stroke="#000" stroke-width="1.5"/>
<line x1="81.46764909409161" y1="778.6" x2="81.46764909409161" y2="782.6" stroke="#000" stroke-width="1.5"/>
<line x1="83.18588213332507" y1="778.6" x2="83.18588213332507" y2="782.6" stroke="#000" stroke-width="1.5"/>
<line x1="84.63862746830938" y1="778.6" x2="84.63862746830938" y2="782.6" stroke="#000" stroke-width="1.5"/>
<line x1="85.89705271772519" y1="778.6" x2="85.89705271772519" y2="782.6" stroke="#000" stroke-width="1.5"/>
<line x1="87.00706245483335" y1="778.6" x2="87.00706245483335" y2="782.6" stroke="#000" stroke-width="1.5"/>
<line x1="88.0" y1="778.6" x2="88.0" y2="783.6" stroke="#000" stroke-width="1.5"/>
<line x1="94.5323509059084" y1="778.6" x2="94.5323509059084" y2="782.6" stroke="#000" stroke-width="1.5"/>
<line x1="98.35353122741668" y1="778.6" x2="98.35353122741668" y2="782.6" stroke="#000" stroke-width="1.5"/>
<line x1="101.0647018118168" y1="778.6" x2="101.0647018118168" y2="782.6" stroke="#000" stroke-width="1.5"/>
<line x1="103.16764909409162" y1="778.6" x2="103.16764909409162" y2="782.6" stroke="#000" stroke-width="1.5"/>
<line x1="104.88588213332508" y1="778.6" x2="104.88588213332508" y2="782.6" stroke="#000" stroke-width="1.5"/>
<line x1="106.33862746830938" y1="778.6" x2="106.33862746830938" y2="782.6" stroke="#000" stroke-width="1.5"/>
<line x1="107.59705271772519" y1="778.6" x2="107.59705271772519" y2="782.6" stroke="#000" stroke-width="1.5"/>
<line x1="108.70706245483336" y1="778.6" x2="108.70706245483336" y2="782.6" stroke="#000" stroke-width="1.5"/>
<line x1="109.70000000000002" y1="778.6" x2="109.70000000000002" y2="783.6" stroke="#000" stroke-width="1.5"/>
<line x1="116.23235090590839" y1="778.6" x2="116.23235090590839" y2="782.6" stroke="#000" stroke-width="1.5"/>
<line x1="120.0535312274167" y1="778.6" x2="120.0535312274167" y2="782.6" stroke="#000" stroke-width="1.5"/>
<line x1="122.76470181181679" y1="778.6" x2="122.76470181181679" y2="782.6" stroke="#000" stroke-width="1.5"/>
<line x1="124.86764909409163" y1="778.6" x2="124.86764909409163" y2="782.6" stroke="#000" stroke-width="1.5"/>
<line x1="126.58588213332507" y1="778.6" x2="126.58588213332507" y2="782.6" stroke="#000" stroke-width="1.5"/>
<line x1="128.0386274683094" y1="778.6" x2="128.0386274683094" y2="782.6" stroke="#000" stroke-width="1.5"/>
<line x1="129.2970527177252" y1="778.6" x2="129.2970527177252" y2="782.6" stroke="#000" stroke-width="1.5"/>
<line x1="130.40706245483335" y1="778.6" x2="130.40706245483335" y2="782.6" stroke="#000" stroke-width="1.5"/>
<line x1="39.800000000000004" y1="778.6" x2="44.6" y2="778.6" stroke="#000" stroke-width="1.5"/>
<line x1="41.6" y1="773.8888805678587" x2="44.6" y2="773.8888805678587" stroke="#000" stroke-width="1.5"/>
<line x1="41.6" y1="771.1330523636373" x2="44.6" y2="771.1330523636373" stroke="#000" stroke-width="1.5"/>
<line x1="41.6" y1="769.1777611357174" x2="44.6" y2="769.1777611357174" stroke="#000" stroke-width="1.5"/>
<line x1="41.6" y1="767.6611194321413" x2="44.6" y2="767.6611194321413" stroke="#000" stroke-width="1.5"/>
<line x1="41.6" y1="766.421932931496" x2="44.6" y2="766.421932931496" stroke="#000" stroke-width="1.5"/>
<line x1="41.6" y1="765.3742156737769" x2="44.6" y2="765.3742156737769" stroke="#000" stroke-width="1.5"/>
<line x1="41.6" y1="764.4666417035761" x2="44.6" y2="764.4666417035761" stroke="#000" stroke-width="1.5"/>
<line x1="41.6" y1="763.6661047272746" x2="44.6" y2="763.6661047272746" stroke="#000" stroke-width="1.5"/>
<line x1="39.800000000000004" y1="762.95" x2="44.6" y2="762.95" stroke="#000" stroke-width="1.5"/>
<line x1="41.6" y1="758.2388805678587" x2="44.6" y2="758.2388805678587" stroke="#000" stroke-width="1.5"/>
<line x1="41.6" y1="755.4830523636373" x2="44.6" y2="755.4830523636373" stroke="#000" stroke-width="1.5"/>
<line x1="41.6" y1="753.5277611357174" x2="44.6" y2="753.5277611357174" stroke="#000" stroke-width="1.5"/>
<line x1="41.6" y1="752.0111194321413" x2="44.6" y2="752.0111194321413" stroke="#000" stroke-width="1.5"/>
<line x1="41.6" y1="750.7719329314959" x2="44.6" y2="750.7719329314959" stroke="#000" stroke-width="1.5"/>
<line x1="41.6" y1="749.7242156737769" x2="44.6" y2="749.7242156737769" stroke="#000" stroke-width="1.5"/>
<line x1="41.6" y1="748.8166417035761" x2="44.6" y2="748.8166417035761" stroke="#000" stroke-width="1.5"/>
<line x1="41.6" y1="748.0161047272745" x2="44.6" y2="748.0161047272745" stroke="#000" stroke-width="1.5"/>
<line x1="39.800000000000004" y1="747.3" x2="44.6" y2="747.3" stroke="#000" stroke-width="1.5"/>
<line x1="41.6" y1="742.5888805678587" x2="44.6" y2="742.5888805678587" stroke="#000" stroke-width="1.5"/>
<line x1="41.6" y1="739.8330523636373" x2="44.6" y2="739.8330523636373" stroke="#000" stroke-width="1.5"/>
<line x1="41.6" y1="737.8777611357174" x2="44.6" y2="737.8777611357174" stroke="#000" stroke-width="1.5"/>
<line x1="41.6" y1="736.3611194321413" x2="44.6" y2="736.3611194321413" stroke="#000" stroke-width="1.5"/>
<line x1="41.6" y1="735.121932931496" x2="44.6" y2="735.121932931496" stroke="#000" stroke-width="1.5"/>
<line x1="41.6" y1="734.0742156737768" x2="44.6" y2="734.0742156737768" stroke="#000" stroke-width="1.5"/>
<line x1="41.6" y1="733.166641703576" x2="44.6" y2="733.166641703576" stroke="#000" stroke-width="1.5"/>
<line x1="41.6" y1="732.3661047272745" x2="44.6" y2="732.3661047272745" stroke="#000" stroke-width="1.5"/>
<line x1="39.800000000000004" y1="731.65" x2="44.6" y2="731.65" stroke="#000" stroke-width="1.5"/>
<line x1="41.6" y1="726.9388805678587" x2="44.6" y2="726.9388805678587" stroke="#000" stroke-width="1.5"/>
<line x1="41.6" y1="724.1830523636373" x2="44.6" y2="724.1830523636373" stroke="#000" stroke-width="1.5"/>
<line x1="41.6" y1="722.2277611357174" x2="44.6" y2="722.2277611357174" stroke="#000" stroke-width="1.5"/>
<line x1="41.6" y1="720.7111194321413" x2="44.6" y2="720.7111194321413" stroke="#000" stroke-width="1.5"/>
<line x1="41.6" y1="719.471932931496" x2="44.6" y2="719.471932931496" stroke="#000" stroke-width="1.5"/>
<line x1="41.6" y1="718.4242156737769" x2="44.6" y2="718.4242156737769" stroke="#000" stroke-width="1.5"/>
<line x1="41.6" y1="717.516641703576" x2="44.6" y2="717.516641703576" stroke="#000" stroke-width="1.5"/>
<line x1="41.6" y1="716.7161047272746" x2="44.6" y2="716.7161047272746" stroke="#000" stroke-width="1.5"/>
<line x1="39.800000000000004" y1="716.0" x2="44.6" y2="716.0" stroke="#000" stroke-width="1.5"/>
<polygon points="65.5,778.6 64.0,767.1 65.7,765.4 67.3,766.0 69.0,766.7 70.6,765.4 72.2,765.4 73.9,765.7 75.5,766.9 77.2,765.5 78.8,766.9 80.5,766.7 82.2,765.4 83.8,766.4 85.5,766.2 87.1,766.1 88.8,767.5 90.4,764.0 92.1,765.0 93.7,764.8 95.4,766.3 97.0,764.5 98.7,765.3 100.3,766.0 102.0,764.5 103.6,766.4 105.2,765.8 106.9,767.6 105.4,778.6" fill="#000"/>
<rect x="77.9" y="762.1" width="1.8" height="1.8" fill="#000"/>
<rect x="99.9" y="763.6" width="1.8" height="1.8" fill="#000"/>
<rect x="94.1" y="764.5" width="1.8" height="1.8" fill="#000"/>
<rect x="87.4" y="762.3" width="1.8" height="1.8" fill="#000"/>
<rect x="87.8" y="765.7" width="1.8" height="1.8" fill="#000"/>
<rect x="99.3" y="765.9" width="1.8" height="1.8" fill="#000"/>
<rect x="71.1" y="763.9" width="1.8" height="1.8" fill="#000"/>
<rect x="75.1" y="765.4" width="1.8" height="1.8" fill="#000"/>
<rect x="94.5" y="761.1" width="1.8" height="1.8" fill="#000"/>
<rect x="97.9" y="765.6" width="1.8" height="1.8" fill="#000"/>
<rect x="77.6" y="766.0" width="1.8" height="1.8" fill="#000"/>
<rect x="75.0" y="762.2" width="1.8" height="1.8" fill="#000"/>
<rect x="74.7" y="766.0" width="1.8" height="1.8" fill="#000"/>
<rect x="71.7" y="762.8" width="1.8" height="1.8" fill="#000"/>
<rect x="72.3" y="761.8" width="1.8" height="1.8" fill="#000"/>
<rect x="76.3" y="763.9" width="1.8" height="1.8" fill="#000"/>
<rect x="100.8" y="763.7" width="1.8" height="1.8" fill="#000"/>
<rect x="97.2" y="762.9" width="1.8" height="1.8" fill="#000"/>
<rect x="89.3" y="765.3" width="1.8" height="1.8" fill="#000"/>
<rect x="95.7" y="764.8" width="1.8" height="1.8" fill="#000"/>
<rect x="78.4" y="764.8" width="1.8" height="1.8" fill="#000"/>
<rect x="78.9" y="763.8" width="1.8" height="1.8" fill="#000"/>
<rect x="102.7" y="764.1" width="1.8" height="1.8" fill="#000"/>
<rect x="73.3" y="764.2" width="1.8" height="1.8" fill="#000"/>
<rect x="97.1" y="764.4" width="1.8" height="1.8" fill="#000"/>
<rect x="93.6" y="764.3" width="1.8" height="1.8" fill="#000"/>
<rect x="73.1" y="762.3" width="1.8" height="1.8" fill="#000"/>
<rect x="72.6" y="765.1" width="1.8" height="1.8" fill="#000"/>
<rect x="83.4" y="763.6" width="1.8" height="1.8" fill="#000"/>
<rect x="72.3" y="763.0" width="1.8" height="1.8" fill="#000"/>
<rect x="70.2" y="758.1" width="1.9" height="1.9" fill="#000"/>
<rect x="100.2" y="755.0" width="1.9" height="1.9" fill="#000"/>
<rect x="150.5" y="719.5" width="87.9" height="62.0" fill="none" stroke="#000" stroke-width="1.8"/>
<line x1="150.5" y1="781.5" x2="150.5" y2="786.5" stroke="#000" stroke-width="1.5"/>
<line x1="157.11513415471597" y1="781.5" x2="157.11513415471597" y2="785.5" stroke="#000" stroke-width="1.5"/>
<line x1="160.98473957246458" y1="781.5" x2="160.98473957246458" y2="785.5" stroke="#000" stroke-width="1.5"/>
<line x1="163.73026830943198" y1="781.5" x2="163.73026830943198" y2="785.5" stroke="#000" stroke-width="1.5"/>
<line x1="165.85986584528402" y1="781.5" x2="165.85986584528402" y2="785.5" stroke="#000" stroke-width="1.5"/>
<line x1="167.59987372718058" y1="781.5" x2="167.59987372718058" y2="785.5" stroke="#000" stroke-width="1.5"/>
<line x1="169.07102942931328" y1="781.5" x2="169.07102942931328" y2="785.5" stroke="#000" stroke-width="1.5"/>
<line x1="170.34540246414795" y1="781.5" x2="170.34540246414795" y2="785.5" stroke="#000" stroke-width="1.5"/>
<line x1="171.46947914492915" y1="781.5" x2="171.46947914492915" y2="785.5" stroke="#000" stroke-width="1.5"/>
<line x1="172.475" y1="781.5" x2="172.475" y2="786.5" stroke="#000" stroke-width="1.5"/>
<line x1="179.090134154716" y1="781.5" x2="179.090134154716" y2="785.5" stroke="#000" stroke-width="1.5"/>
<line x1="182.95973957246457" y1="781.5" x2="182.95973957246457" y2="785.5" stroke="#000" stroke-width="1.5"/>
<line x1="185.70526830943197" y1="781.5" x2="185.70526830943197" y2="785.5" stroke="#000" stroke-width="1.5"/>
<line x1="187.834865845284" y1="781.5" x2="187.834865845284" y2="785.5" stroke="#000" stroke-width="1.5"/>
<line x1="189.57487372718057" y1="781.5" x2="189.57487372718057" y2="785.5" stroke="#000" stroke-width="1.5"/>
<line x1="191.0460294293133" y1="781.5" x2="191.0460294293133" y2="785.5" stroke="#000" stroke-width="1.5"/>
<line x1="192.32040246414795" y1="781.5" x2="192.32040246414795" y2="785.5" stroke="#000" stroke-width="1.5"/>
<line x1="193.44447914492918" y1="781.5" x2="193.44447914492918" y2="785.5" stroke="#000" stroke-width="1.5"/>
<line x1="194.45" y1="781.5" x2="194.45" y2="786.5" stroke="#000" stroke-width="1.5"/>
<line x1="201.065134154716" y1="781.5" x2="201.065134154716" y2="785.5" stroke="#000" stroke-width="1.5"/>
<line x1="204.9347395724646" y1="781.5" x2="204.9347395724646" y2="785.5" stroke="#000" stroke-width="1.5"/>
<line x1="207.680268309432" y1="781.5" x2="207.680268309432" y2="785.5" stroke="#000" stroke-width="1.5"/>
<line x1="209.809865845284" y1="781.5" x2="209.809865845284" y2="785.5" stroke="#000" stroke-width="1.5"/>
<line x1="211.54987372718057" y1="781.5" x2="211.54987372718057" y2="785.5" stroke="#000" stroke-width="1.5"/>
<line x1="213.0210294293133" y1="781.5" x2="213.0210294293133" y2="785.5" stroke="#000" stroke-width="1.5"/>
<line x1="214.29540246414797" y1="781.5" x2="214.29540246414797" y2="785.5" stroke="#000" stroke-width="1.5"/>
<line x1="215.41947914492917" y1="781.5" x2="215.41947914492917" y2="785.5" stroke="#000" stroke-width="1.5"/>
<line x1="216.425" y1="781.5" x2="216.425" y2="786.5" stroke="#000" stroke-width="1.5"/>
<line x1="223.040134154716" y1="781.5" x2="223.040134154716" y2="785.5" stroke="#000" stroke-width="1.5"/>
<line x1="226.9097395724646" y1="781.5" x2="226.9097395724646" y2="785.5" stroke="#000" stroke-width="1.5"/>
<line x1="229.65526830943196" y1="781.5" x2="229.65526830943196" y2="785.5" stroke="#000" stroke-width="1.5"/>
<line x1="231.784865845284" y1="781.5" x2="231.784865845284" y2="785.5" stroke="#000" stroke-width="1.5"/>
<line x1="233.5248737271806" y1="781.5" x2="233.5248737271806" y2="785.5" stroke="#000" stroke-width="1.5"/>
<line x1="234.9960294293133" y1="781.5" x2="234.9960294293133" y2="785.5" stroke="#000" stroke-width="1.5"/>
<line x1="236.27040246414796" y1="781.5" x2="236.27040246414796" y2="785.5" stroke="#000" stroke-width="1.5"/>
<line x1="237.39447914492916" y1="781.5" x2="237.39447914492916" y2="785.5" stroke="#000" stroke-width="1.5"/>
<line x1="145.7" y1="781.5" x2="150.5" y2="781.5" stroke="#000" stroke-width="1.5"/>
<line x1="147.5" y1="776.8340350672083" x2="150.5" y2="776.8340350672083" stroke="#000" stroke-width="1.5"/>
<line x1="147.5" y1="774.1046205518452" x2="150.5" y2="774.1046205518452" stroke="#000" stroke-width="1.5"/>
<line x1="147.5" y1="772.1680701344166" x2="150.5" y2="772.1680701344166" stroke="#000" stroke-width="1.5"/>
<line x1="147.5" y1="770.6659649327917" x2="150.5" y2="770.6659649327917" stroke="#000" stroke-width="1.5"/>
<line x1="147.5" y1="769.4386556190535" x2="150.5" y2="769.4386556190535" stroke="#000" stroke-width="1.5"/>
<line x1="147.5" y1="768.4009803797791" x2="150.5" y2="768.4009803797791" stroke="#000" stroke-width="1.5"/>
<line x1="147.5" y1="767.5021052016249" x2="150.5" y2="767.5021052016249" stroke="#000" stroke-width="1.5"/>
<line x1="147.5" y1="766.7092411036905" x2="150.5" y2="766.7092411036905" stroke="#000" stroke-width="1.5"/>
<line x1="145.7" y1="766.0" x2="150.5" y2="766.0" stroke="#000" stroke-width="1.5"/>
<line x1="147.5" y1="761.3340350672083" x2="150.5" y2="761.3340350672083" stroke="#000" stroke-width="1.5"/>
<line x1="147.5" y1="758.6046205518452" x2="150.5" y2="758.6046205518452" stroke="#000" stroke-width="1.5"/>
<line x1="147.5" y1="756.6680701344166" x2="150.5" y2="756.6680701344166" stroke="#000" stroke-width="1.5"/>
<line x1="147.5" y1="755.1659649327917" x2="150.5" y2="755.1659649327917" stroke="#000" stroke-width="1.5"/>
<line x1="147.5" y1="753.9386556190535" x2="150.5" y2="753.9386556190535" stroke="#000" stroke-width="1.5"/>
<line x1="147.5" y1="752.9009803797791" x2="150.5" y2="752.9009803797791" stroke="#000" stroke-width="1.5"/>
<line x1="147.5" y1="752.0021052016249" x2="150.5" y2="752.0021052016249" stroke="#000" stroke-width="1.5"/>
<line x1="147.5" y1="751.2092411036905" x2="150.5" y2="751.2092411036905" stroke="#000" stroke-width="1.5"/>
<line x1="145.7" y1="750.5" x2="150.5" y2="750.5" stroke="#000" stroke-width="1.5"/>
<line x1="147.5" y1="745.8340350672083" x2="150.5" y2="745.8340350672083" stroke="#000" stroke-width="1.5"/>
<line x1="147.5" y1="743.1046205518452" x2="150.5" y2="743.1046205518452" stroke="#000" stroke-width="1.5"/>
<line x1="147.5" y1="741.1680701344166" x2="150.5" y2="741.1680701344166" stroke="#000" stroke-width="1.5"/>
<line x1="147.5" y1="739.6659649327917" x2="150.5" y2="739.6659649327917" stroke="#000" stroke-width="1.5"/>
<line x1="147.5" y1="738.4386556190535" x2="150.5" y2="738.4386556190535" stroke="#000" stroke-width="1.5"/>
<line x1="147.5" y1="737.400980379779" x2="150.5" y2="737.400980379779" stroke="#000" stroke-width="1.5"/>
<line x1="147.5" y1="736.5021052016249" x2="150.5" y2="736.5021052016249" stroke="#000" stroke-width="1.5"/>
<line x1="147.5" y1="735.7092411036905" x2="150.5" y2="735.7092411036905" stroke="#000" stroke-width="1.5"/>
<line x1="145.7" y1="735.0" x2="150.5" y2="735.0" stroke="#000" stroke-width="1.5"/>
<line x1="147.5" y1="730.3340350672083" x2="150.5" y2="730.3340350672083" stroke="#000" stroke-width="1.5"/>
<line x1="147.5" y1="727.6046205518452" x2="150.5" y2="727.6046205518452" stroke="#000" stroke-width="1.5"/>
<line x1="147.5" y1="725.6680701344166" x2="150.5" y2="725.6680701344166" stroke="#000" stroke-width="1.5"/>
<line x1="147.5" y1="724.1659649327917" x2="150.5" y2="724.1659649327917" stroke="#000" stroke-width="1.5"/>
<line x1="147.5" y1="722.9386556190535" x2="150.5" y2="722.9386556190535" stroke="#000" stroke-width="1.5"/>
<line x1="147.5" y1="721.900980379779" x2="150.5" y2="721.900980379779" stroke="#000" stroke-width="1.5"/>
<line x1="147.5" y1="721.0021052016249" x2="150.5" y2="721.0021052016249" stroke="#000" stroke-width="1.5"/>
<line x1="147.5" y1="720.2092411036905" x2="150.5" y2="720.2092411036905" stroke="#000" stroke-width="1.5"/>
<line x1="145.7" y1="719.5" x2="150.5" y2="719.5" stroke="#000" stroke-width="1.5"/>
<polygon points="170.1,781.5 168.6,771.2 170.2,768.9 171.8,768.7 173.4,770.5 175.0,769.7 176.6,770.0 178.2,769.6 179.9,769.2 181.5,770.1 183.1,769.7 184.7,770.2 186.3,769.9 187.9,770.3 189.5,769.4 191.1,768.7 192.7,768.7 194.3,770.0 195.9,768.7 197.5,769.9 199.2,769.8 200.8,768.4 202.4,770.2 204.0,768.4 205.6,770.4 207.2,770.3 208.8,770.8 207.3,781.5" fill="#000"/>
<rect x="171.9" y="768.3" width="1.8" height="1.8" fill="#000"/>
<rect x="178.2" y="767.2" width="1.8" height="1.8" fill="#000"/>
<rect x="192.8" y="768.5" width="1.8" height="1.8" fill="#000"/>
<rect x="173.9" y="768.9" width="1.8" height="1.8" fill="#000"/>
<rect x="172.1" y="767.7" width="1.8" height="1.8" fill="#000"/>
<rect x="187.3" y="767.0" width="1.8" height="1.8" fill="#000"/>
<rect x="177.5" y="765.8" width="1.8" height="1.8" fill="#000"/>
<rect x="188.5" y="768.3" width="1.8" height="1.8" fill="#000"/>
<rect x="190.0" y="767.0" width="1.8" height="1.8" fill="#000"/>
<rect x="171.3" y="768.7" width="1.8" height="1.8" fill="#000"/>
<rect x="193.4" y="768.7" width="1.8" height="1.8" fill="#000"/>
<rect x="176.1" y="767.4" width="1.8" height="1.8" fill="#000"/>
<rect x="181.9" y="769.0" width="1.8" height="1.8" fill="#000"/>
<rect x="174.2" y="766.3" width="1.8" height="1.8" fill="#000"/>
<rect x="190.4" y="768.8" width="1.8" height="1.8" fill="#000"/>
<rect x="194.5" y="768.7" width="1.8" height="1.8" fill="#000"/>
<rect x="202.2" y="768.0" width="1.8" height="1.8" fill="#000"/>
<rect x="188.8" y="767.6" width="1.8" height="1.8" fill="#000"/>
<rect x="190.9" y="768.7" width="1.8" height="1.8" fill="#000"/>
<rect x="189.6" y="768.8" width="1.8" height="1.8" fill="#000"/>
<rect x="189.4" y="757.2" width="1.9" height="1.9" fill="#000"/>
<rect x="193.7" y="757.2" width="1.9" height="1.9" fill="#000"/>
<rect x="188.1" y="762.3" width="1.9" height="1.9" fill="#000"/>
<rect x="43.8" y="866" width="88.50000000000001" height="62.60000000000002" fill="none" stroke="#000" stroke-width="1.8"/>
<line x1="43.8" y1="928.6" x2="43.8" y2="933.6" stroke="#000" stroke-width="1.5"/>
<line x1="50.46028865406558" y1="928.6" x2="50.46028865406558" y2="932.6" stroke="#000" stroke-width="1.5"/>
<line x1="54.35630776067253" y1="928.6" x2="54.35630776067253" y2="932.6" stroke="#000" stroke-width="1.5"/>
<line x1="57.12057730813117" y1="928.6" x2="57.12057730813117" y2="932.6" stroke="#000" stroke-width="1.5"/>
<line x1="59.264711345934415" y1="928.6" x2="59.264711345934415" y2="932.6" stroke="#000" stroke-width="1.5"/>
<line x1="61.01659641473812" y1="928.6" x2="61.01659641473812" y2="932.6" stroke="#000" stroke-width="1.5"/>
<line x1="62.49779413531543" y1="928.6" x2="62.49779413531543" y2="932.6" stroke="#000" stroke-width="1.5"/>
<line x1="63.780865962196756" y1="928.6" x2="63.780865962196756" y2="932.6" stroke="#000" stroke-width="1.5"/>
<line x1="64.91261552134506" y1="928.6" x2="64.91261552134506" y2="932.6" stroke="#000" stroke-width="1.5"/>
<line x1="65.925" y1="928.6" x2="65.925" y2="933.6" stroke="#000" stroke-width="1.5"/>
<line x1="72.58528865406558" y1="928.6" x2="72.58528865406558" y2="932.6" stroke="#000" stroke-width="1.5"/>
<line x1="76.48130776067254" y1="928.6" x2="76.48130776067254" y2="932.6" stroke="#000" stroke-width="1.5"/>
<line x1="79.24557730813117" y1="928.6" x2="79.24557730813117" y2="932.6" stroke="#000" stroke-width="1.5"/>
<line x1="81.38971134593442" y1="928.6" x2="81.38971134593442" y2="932.6" stroke="#000" stroke-width="1.5"/>
<line x1="83.14159641473812" y1="928.6" x2="83.14159641473812" y2="932.6" stroke="#000" stroke-width="1.5"/>
<line x1="84.62279413531544" y1="928.6" x2="84.62279413531544" y2="932.6" stroke="#000" stroke-width="1.5"/>
<line x1="85.90586596219676" y1="928.6" x2="85.90586596219676" y2="932.6" stroke="#000" stroke-width="1.5"/>
<line x1="87.03761552134506" y1="928.6" x2="87.03761552134506" y2="932.6" stroke="#000" stroke-width="1.5"/>
<line x1="88.05000000000001" y1="928.6" x2="88.05000000000001" y2="933.6" stroke="#000" stroke-width="1.5"/>
<line x1="94.7102886540656" y1="928.6" x2="94.7102886540656" y2="932.6" stroke="#000" stroke-width="1.5"/>
<line x1="98.60630776067254" y1="928.6" x2="98.60630776067254" y2="932.6" stroke="#000" stroke-width="1.5"/>
<line x1="101.37057730813117" y1="928.6" x2="101.37057730813117" y2="932.6" stroke="#000" stroke-width="1.5"/>
<line x1="103.51471134593442" y1="928.6" x2="103.51471134593442" y2="932.6" stroke="#000" stroke-width="1.5"/>
<line x1="105.26659641473813" y1="928.6" x2="105.26659641473813" y2="932.6" stroke="#000" stroke-width="1.5"/>
<line x1="106.74779413531544" y1="928.6" x2="106.74779413531544" y2="932.6" stroke="#000" stroke-width="1.5"/>
<line x1="108.03086596219676" y1="928.6" x2="108.03086596219676" y2="932.6" stroke="#000" stroke-width="1.5"/>
<line x1="109.16261552134507" y1="928.6" x2="109.16261552134507" y2="932.6" stroke="#000" stroke-width="1.5"/>
<line x1="110.17500000000001" y1="928.6" x2="110.17500000000001" y2="933.6" stroke="#000" stroke-width="1.5"/>
<line x1="116.8352886540656" y1="928.6" x2="116.8352886540656" y2="932.6" stroke="#000" stroke-width="1.5"/>
<line x1="120.73130776067255" y1="928.6" x2="120.73130776067255" y2="932.6" stroke="#000" stroke-width="1.5"/>
<line x1="123.49557730813117" y1="928.6" x2="123.49557730813117" y2="932.6" stroke="#000" stroke-width="1.5"/>
<line x1="125.63971134593443" y1="928.6" x2="125.63971134593443" y2="932.6" stroke="#000" stroke-width="1.5"/>
<line x1="127.39159641473813" y1="928.6" x2="127.39159641473813" y2="932.6" stroke="#000" stroke-width="1.5"/>
<line x1="128.87279413531544" y1="928.6" x2="128.87279413531544" y2="932.6" stroke="#000" stroke-width="1.5"/>
<line x1="130.15586596219677" y1="928.6" x2="130.15586596219677" y2="932.6" stroke="#000" stroke-width="1.5"/>
<line x1="131.28761552134506" y1="928.6" x2="131.28761552134506" y2="932.6" stroke="#000" stroke-width="1.5"/>
<line x1="39.0" y1="928.6" x2="43.8" y2="928.6" stroke="#000" stroke-width="1.5"/>
<line x1="40.8" y1="923.8888805678587" x2="43.8" y2="923.8888805678587" stroke="#000" stroke-width="1.5"/>
<line x1="40.8" y1="921.1330523636373" x2="43.8" y2="921.1330523636373" stroke="#000" stroke-width="1.5"/>
<line x1="40.8" y1="919.1777611357174" x2="43.8" y2="919.1777611357174" stroke="#000" stroke-width="1.5"/>
<line x1="40.8" y1="917.6611194321413" x2="43.8" y2="917.6611194321413" stroke="#000" stroke-width="1.5"/>
<line x1="40.8" y1="916.421932931496" x2="43.8" y2="916.421932931496" stroke="#000" stroke-width="1.5"/>
<line x1="40.8" y1="915.3742156737769" x2="43.8" y2="915.3742156737769" stroke="#000" stroke-width="1.5"/>
<line x1="40.8" y1="914.4666417035761" x2="43.8" y2="914.4666417035761" stroke="#000" stroke-width="1.5"/>
<line x1="40.8" y1="913.6661047272746" x2="43.8" y2="913.6661047272746" stroke="#000" stroke-width="1.5"/>
<line x1="39.0" y1="912.95" x2="43.8" y2="912.95" stroke="#000" stroke-width="1.5"/>
<line x1="40.8" y1="908.2388805678587" x2="43.8" y2="908.2388805678587" stroke="#000" stroke-width="1.5"/>
<line x1="40.8" y1="905.4830523636373" x2="43.8" y2="905.4830523636373" stroke="#000" stroke-width="1.5"/>
<line x1="40.8" y1="903.5277611357174" x2="43.8" y2="903.5277611357174" stroke="#000" stroke-width="1.5"/>
<line x1="40.8" y1="902.0111194321413" x2="43.8" y2="902.0111194321413" stroke="#000" stroke-width="1.5"/>
<line x1="40.8" y1="900.7719329314959" x2="43.8" y2="900.7719329314959" stroke="#000" stroke-width="1.5"/>
<line x1="40.8" y1="899.7242156737769" x2="43.8" y2="899.7242156737769" stroke="#000" stroke-width="1.5"/>
<line x1="40.8" y1="898.8166417035761" x2="43.8" y2="898.8166417035761" stroke="#000" stroke-width="1.5"/>
<line x1="40.8" y1="898.0161047272745" x2="43.8" y2="898.0161047272745" stroke="#000" stroke-width="1.5"/>
<line x1="39.0" y1="897.3" x2="43.8" y2="897.3" stroke="#000" stroke-width="1.5"/>
<line x1="40.8" y1="892.5888805678587" x2="43.8" y2="892.5888805678587" stroke="#000" stroke-width="1.5"/>
<line x1="40.8" y1="889.8330523636373" x2="43.8" y2="889.8330523636373" stroke="#000" stroke-width="1.5"/>
<line x1="40.8" y1="887.8777611357174" x2="43.8" y2="887.8777611357174" stroke="#000" stroke-width="1.5"/>
<line x1="40.8" y1="886.3611194321413" x2="43.8" y2="886.3611194321413" stroke="#000" stroke-width="1.5"/>
<line x1="40.8" y1="885.121932931496" x2="43.8" y2="885.121932931496" stroke="#000" stroke-width="1.5"/>
<line x1="40.8" y1="884.0742156737768" x2="43.8" y2="884.0742156737768" stroke="#000" stroke-width="1.5"/>
<line x1="40.8" y1="883.166641703576" x2="43.8" y2="883.166641703576" stroke="#000" stroke-width="1.5"/>
<line x1="40.8" y1="882.3661047272745" x2="43.8" y2="882.3661047272745" stroke="#000" stroke-width="1.5"/>
<line x1="39.0" y1="881.65" x2="43.8" y2="881.65" stroke="#000" stroke-width="1.5"/>
<line x1="40.8" y1="876.9388805678587" x2="43.8" y2="876.9388805678587" stroke="#000" stroke-width="1.5"/>
<line x1="40.8" y1="874.1830523636373" x2="43.8" y2="874.1830523636373" stroke="#000" stroke-width="1.5"/>
<line x1="40.8" y1="872.2277611357174" x2="43.8" y2="872.2277611357174" stroke="#000" stroke-width="1.5"/>
<line x1="40.8" y1="870.7111194321413" x2="43.8" y2="870.7111194321413" stroke="#000" stroke-width="1.5"/>
<line x1="40.8" y1="869.471932931496" x2="43.8" y2="869.471932931496" stroke="#000" stroke-width="1.5"/>
<line x1="40.8" y1="868.4242156737769" x2="43.8" y2="868.4242156737769" stroke="#000" stroke-width="1.5"/>
<line x1="40.8" y1="867.516641703576" x2="43.8" y2="867.516641703576" stroke="#000" stroke-width="1.5"/>
<line x1="40.8" y1="866.7161047272746" x2="43.8" y2="866.7161047272746" stroke="#000" stroke-width="1.5"/>
<line x1="39.0" y1="866.0" x2="43.8" y2="866.0" stroke="#000" stroke-width="1.5"/>
<rect x="57.7" y="882.6" width="51.5" height="29.6" fill="none" stroke="#000" stroke-width="1.4"/>
<polygon points="64.0,928.6 62.5,915.2 64.1,914.0 65.7,913.0 67.3,915.0 69.0,913.2 70.6,914.2 72.2,915.3 73.8,913.7 75.4,915.4 77.0,914.7 78.6,914.1 80.2,914.4 81.8,914.3 83.5,913.6 85.1,915.5 86.7,913.7 88.3,915.5 89.9,915.1 91.5,912.6 93.1,913.3 94.8,913.9 96.4,914.9 98.0,913.0 99.6,914.3 101.2,915.6 99.7,928.6" fill="#000"/>
<rect x="63.4" y="914.0" width="1.8" height="1.8" fill="#000"/>
<rect x="81.4" y="912.8" width="1.8" height="1.8" fill="#000"/>
<rect x="78.2" y="913.8" width="1.8" height="1.8" fill="#000"/>
<rect x="67.8" y="913.7" width="1.8" height="1.8" fill="#000"/>
<rect x="78.4" y="914.1" width="1.8" height="1.8" fill="#000"/>
<rect x="75.6" y="909.0" width="1.8" height="1.8" fill="#000"/>
<rect x="62.5" y="912.2" width="1.8" height="1.8" fill="#000"/>
<rect x="61.6" y="910.7" width="1.8" height="1.8" fill="#000"/>
<rect x="68.3" y="907.5" width="1.8" height="1.8" fill="#000"/>
<rect x="72.6" y="909.4" width="1.8" height="1.8" fill="#000"/>
<rect x="78.6" y="913.0" width="1.8" height="1.8" fill="#000"/>
<rect x="98.8" y="913.4" width="1.8" height="1.8" fill="#000"/>
<rect x="100.9" y="913.6" width="1.8" height="1.8" fill="#000"/>
<rect x="89.3" y="911.9" width="1.8" height="1.8" fill="#000"/>
<rect x="83.9" y="913.5" width="1.8" height="1.8" fill="#000"/>
<rect x="83.0" y="908.5" width="1.8" height="1.8" fill="#000"/>
<rect x="68.6" y="911.7" width="1.8" height="1.8" fill="#000"/>
<rect x="68.8" y="907.8" width="1.8" height="1.8" fill="#000"/>
<rect x="95.2" y="912.6" width="1.8" height="1.8" fill="#000"/>
<rect x="79.0" y="912.4" width="1.8" height="1.8" fill="#000"/>
<rect x="61.3" y="906.6" width="1.8" height="1.8" fill="#000"/>
<rect x="83.3" y="912.4" width="1.8" height="1.8" fill="#000"/>
<rect x="68.3" y="911.2" width="1.8" height="1.8" fill="#000"/>
<rect x="68.7" y="908.3" width="1.8" height="1.8" fill="#000"/>
<rect x="86.3" y="908.3" width="1.8" height="1.8" fill="#000"/>
<rect x="84.4" y="910.1" width="1.8" height="1.8" fill="#000"/>
<rect x="84.1" y="911.0" width="1.8" height="1.8" fill="#000"/>
<rect x="93.9" y="912.9" width="1.8" height="1.8" fill="#000"/>
<rect x="101.4" y="908.6" width="1.8" height="1.8" fill="#000"/>
<rect x="95.5" y="913.4" width="1.8" height="1.8" fill="#000"/>
<rect x="101.1" y="911.2" width="1.8" height="1.8" fill="#000"/>
<rect x="71.1" y="913.2" width="1.8" height="1.8" fill="#000"/>
<rect x="96.8" y="912.6" width="1.8" height="1.8" fill="#000"/>
<rect x="98.9" y="912.9" width="1.8" height="1.8" fill="#000"/>
<rect x="89.3" y="911.6" width="1.8" height="1.8" fill="#000"/>
<rect x="89.0" y="907.6" width="1.8" height="1.8" fill="#000"/>
<rect x="91.5" y="908.5" width="1.8" height="1.8" fill="#000"/>
<rect x="76.7" y="913.6" width="1.8" height="1.8" fill="#000"/>
<rect x="62.9" y="907.5" width="1.8" height="1.8" fill="#000"/>
<rect x="67.6" y="911.6" width="1.8" height="1.8" fill="#000"/>
<rect x="70.5" y="888.5" width="1.9" height="1.9" fill="#000"/>
<rect x="75.5" y="890.0" width="1.9" height="1.9" fill="#000"/>
<rect x="72.5" y="895.0" width="1.9" height="1.9" fill="#000"/>
<rect x="75.5" y="895.0" width="1.9" height="1.9" fill="#000"/>
<rect x="72.0" y="898.5" width="1.9" height="1.9" fill="#000"/>
<rect x="75.5" y="899.5" width="1.9" height="1.9" fill="#000"/>
<rect x="62.0" y="901.5" width="1.9" height="1.9" fill="#000"/>
<rect x="67.0" y="900.5" width="1.9" height="1.9" fill="#000"/>
<rect x="67.0" y="903.0" width="1.9" height="1.9" fill="#000"/>
<rect x="92.0" y="901.5" width="1.9" height="1.9" fill="#000"/>
<rect x="90.5" y="906.5" width="1.9" height="1.9" fill="#000"/>
<rect x="94.0" y="906.5" width="1.9" height="1.9" fill="#000"/>
<rect x="65.5" y="907.0" width="1.9" height="1.9" fill="#000"/>
<rect x="71.0" y="906.0" width="1.9" height="1.9" fill="#000"/>
<rect x="103.5" y="916.5" width="1.9" height="1.9" fill="#000"/>
<rect x="97.0" y="923.0" width="1.9" height="1.9" fill="#000"/>
<rect x="77.0" y="914.5" width="1.9" height="1.9" fill="#000"/>
<rect x="73.5" y="902.0" width="1.9" height="1.9" fill="#000"/>
<rect x="73.5" y="905.0" width="1.9" height="1.9" fill="#000"/>
<rect x="151" y="866" width="88.30000000000001" height="63.200000000000045" fill="none" stroke="#000" stroke-width="1.8"/>
<line x1="151.0" y1="929.2" x2="151.0" y2="934.2" stroke="#000" stroke-width="1.5"/>
<line x1="157.6452371542824" y1="929.2" x2="157.6452371542824" y2="933.2" stroke="#000" stroke-width="1.5"/>
<line x1="161.53245169793655" y1="929.2" x2="161.53245169793655" y2="933.2" stroke="#000" stroke-width="1.5"/>
<line x1="164.29047430856477" y1="929.2" x2="164.29047430856477" y2="933.2" stroke="#000" stroke-width="1.5"/>
<line x1="166.42976284571762" y1="929.2" x2="166.42976284571762" y2="933.2" stroke="#000" stroke-width="1.5"/>
<line x1="168.17768885221892" y1="929.2" x2="168.17768885221892" y2="933.2" stroke="#000" stroke-width="1.5"/>
<line x1="169.65553923331473" y1="929.2" x2="169.65553923331473" y2="933.2" stroke="#000" stroke-width="1.5"/>
<line x1="170.93571146284717" y1="929.2" x2="170.93571146284717" y2="933.2" stroke="#000" stroke-width="1.5"/>
<line x1="172.0649033958731" y1="929.2" x2="172.0649033958731" y2="933.2" stroke="#000" stroke-width="1.5"/>
<line x1="173.075" y1="929.2" x2="173.075" y2="934.2" stroke="#000" stroke-width="1.5"/>
<line x1="179.7202371542824" y1="929.2" x2="179.7202371542824" y2="933.2" stroke="#000" stroke-width="1.5"/>
<line x1="183.60745169793654" y1="929.2" x2="183.60745169793654" y2="933.2" stroke="#000" stroke-width="1.5"/>
<line x1="186.36547430856479" y1="929.2" x2="186.36547430856479" y2="933.2" stroke="#000" stroke-width="1.5"/>
<line x1="188.5047628457176" y1="929.2" x2="188.5047628457176" y2="933.2" stroke="#000" stroke-width="1.5"/>
<line x1="190.25268885221894" y1="929.2" x2="190.25268885221894" y2="933.2" stroke="#000" stroke-width="1.5"/>
<line x1="191.73053923331474" y1="929.2" x2="191.73053923331474" y2="933.2" stroke="#000" stroke-width="1.5"/>
<line x1="193.01071146284715" y1="929.2" x2="193.01071146284715" y2="933.2" stroke="#000" stroke-width="1.5"/>
<line x1="194.1399033958731" y1="929.2" x2="194.1399033958731" y2="933.2" stroke="#000" stroke-width="1.5"/>
<line x1="195.15" y1="929.2" x2="195.15" y2="934.2" stroke="#000" stroke-width="1.5"/>
<line x1="201.7952371542824" y1="929.2" x2="201.7952371542824" y2="933.2" stroke="#000" stroke-width="1.5"/>
<line x1="205.68245169793656" y1="929.2" x2="205.68245169793656" y2="933.2" stroke="#000" stroke-width="1.5"/>
<line x1="208.44047430856477" y1="929.2" x2="208.44047430856477" y2="933.2" stroke="#000" stroke-width="1.5"/>
<line x1="210.57976284571762" y1="929.2" x2="210.57976284571762" y2="933.2" stroke="#000" stroke-width="1.5"/>
<line x1="212.32768885221896" y1="929.2" x2="212.32768885221896" y2="933.2" stroke="#000" stroke-width="1.5"/>
<line x1="213.80553923331473" y1="929.2" x2="213.80553923331473" y2="933.2" stroke="#000" stroke-width="1.5"/>
<line x1="215.08571146284717" y1="929.2" x2="215.08571146284717" y2="933.2" stroke="#000" stroke-width="1.5"/>
<line x1="216.2149033958731" y1="929.2" x2="216.2149033958731" y2="933.2" stroke="#000" stroke-width="1.5"/>
<line x1="217.22500000000002" y1="929.2" x2="217.22500000000002" y2="934.2" stroke="#000" stroke-width="1.5"/>
<line x1="223.8702371542824" y1="929.2" x2="223.8702371542824" y2="933.2" stroke="#000" stroke-width="1.5"/>
<line x1="227.75745169793657" y1="929.2" x2="227.75745169793657" y2="933.2" stroke="#000" stroke-width="1.5"/>
<line x1="230.51547430856476" y1="929.2" x2="230.51547430856476" y2="933.2" stroke="#000" stroke-width="1.5"/>
<line x1="232.65476284571764" y1="929.2" x2="232.65476284571764" y2="933.2" stroke="#000" stroke-width="1.5"/>
<line x1="234.40268885221894" y1="929.2" x2="234.40268885221894" y2="933.2" stroke="#000" stroke-width="1.5"/>
<line x1="235.88053923331472" y1="929.2" x2="235.88053923331472" y2="933.2" stroke="#000" stroke-width="1.5"/>
<line x1="237.1607114628472" y1="929.2" x2="237.1607114628472" y2="933.2" stroke="#000" stroke-width="1.5"/>
<line x1="238.28990339587313" y1="929.2" x2="238.28990339587313" y2="933.2" stroke="#000" stroke-width="1.5"/>
<line x1="146.2" y1="929.2" x2="151" y2="929.2" stroke="#000" stroke-width="1.5"/>
<line x1="148.0" y1="924.4437260685091" x2="151" y2="924.4437260685091" stroke="#000" stroke-width="1.5"/>
<line x1="148.0" y1="921.6614841754293" x2="151" y2="921.6614841754293" stroke="#000" stroke-width="1.5"/>
<line x1="148.0" y1="919.6874521370182" x2="151" y2="919.6874521370182" stroke="#000" stroke-width="1.5"/>
<line x1="148.0" y1="918.1562739314909" x2="151" y2="918.1562739314909" stroke="#000" stroke-width="1.5"/>
<line x1="148.0" y1="916.9052102439384" x2="151" y2="916.9052102439384" stroke="#000" stroke-width="1.5"/>
<line x1="148.0" y1="915.8474509677748" x2="151" y2="915.8474509677748" stroke="#000" stroke-width="1.5"/>
<line x1="148.0" y1="914.9311782055273" x2="151" y2="914.9311782055273" stroke="#000" stroke-width="1.5"/>
<line x1="148.0" y1="914.1229683508587" x2="151" y2="914.1229683508587" stroke="#000" stroke-width="1.5"/>
<line x1="146.2" y1="913.4000000000001" x2="151" y2="913.4000000000001" stroke="#000" stroke-width="1.5"/>
<line x1="148.0" y1="908.6437260685092" x2="151" y2="908.6437260685092" stroke="#000" stroke-width="1.5"/>
<line x1="148.0" y1="905.8614841754294" x2="151" y2="905.8614841754294" stroke="#000" stroke-width="1.5"/>
<line x1="148.0" y1="903.8874521370183" x2="151" y2="903.8874521370183" stroke="#000" stroke-width="1.5"/>
<line x1="148.0" y1="902.3562739314909" x2="151" y2="902.3562739314909" stroke="#000" stroke-width="1.5"/>
<line x1="148.0" y1="901.1052102439385" x2="151" y2="901.1052102439385" stroke="#000" stroke-width="1.5"/>
<line x1="148.0" y1="900.0474509677748" x2="151" y2="900.0474509677748" stroke="#000" stroke-width="1.5"/>
<line x1="148.0" y1="899.1311782055274" x2="151" y2="899.1311782055274" stroke="#000" stroke-width="1.5"/>
<line x1="148.0" y1="898.3229683508587" x2="151" y2="898.3229683508587" stroke="#000" stroke-width="1.5"/>
<line x1="146.2" y1="897.6" x2="151" y2="897.6" stroke="#000" stroke-width="1.5"/>
<line x1="148.0" y1="892.8437260685091" x2="151" y2="892.8437260685091" stroke="#000" stroke-width="1.5"/>
<line x1="148.0" y1="890.0614841754293" x2="151" y2="890.0614841754293" stroke="#000" stroke-width="1.5"/>
<line x1="148.0" y1="888.0874521370182" x2="151" y2="888.0874521370182" stroke="#000" stroke-width="1.5"/>
<line x1="148.0" y1="886.556273931491" x2="151" y2="886.556273931491" stroke="#000" stroke-width="1.5"/>
<line x1="148.0" y1="885.3052102439384" x2="151" y2="885.3052102439384" stroke="#000" stroke-width="1.5"/>
<line x1="148.0" y1="884.2474509677747" x2="151" y2="884.2474509677747" stroke="#000" stroke-width="1.5"/>
<line x1="148.0" y1="883.3311782055273" x2="151" y2="883.3311782055273" stroke="#000" stroke-width="1.5"/>
<line x1="148.0" y1="882.5229683508587" x2="151" y2="882.5229683508587" stroke="#000" stroke-width="1.5"/>
<line x1="146.2" y1="881.8" x2="151" y2="881.8" stroke="#000" stroke-width="1.5"/>
<line x1="148.0" y1="877.0437260685092" x2="151" y2="877.0437260685092" stroke="#000" stroke-width="1.5"/>
<line x1="148.0" y1="874.2614841754294" x2="151" y2="874.2614841754294" stroke="#000" stroke-width="1.5"/>
<line x1="148.0" y1="872.2874521370182" x2="151" y2="872.2874521370182" stroke="#000" stroke-width="1.5"/>
<line x1="148.0" y1="870.7562739314909" x2="151" y2="870.7562739314909" stroke="#000" stroke-width="1.5"/>
<line x1="148.0" y1="869.5052102439384" x2="151" y2="869.5052102439384" stroke="#000" stroke-width="1.5"/>
<line x1="148.0" y1="868.4474509677748" x2="151" y2="868.4474509677748" stroke="#000" stroke-width="1.5"/>
<line x1="148.0" y1="867.5311782055273" x2="151" y2="867.5311782055273" stroke="#000" stroke-width="1.5"/>
<line x1="148.0" y1="866.7229683508587" x2="151" y2="866.7229683508587" stroke="#000" stroke-width="1.5"/>
<line x1="146.2" y1="866.0" x2="151" y2="866.0" stroke="#000" stroke-width="1.5"/>
<rect x="162.4" y="884.8" width="50.9" height="28.5" fill="none" stroke="#000" stroke-width="1.4"/>
<polygon points="170.2,929.2 168.7,916.3 170.3,914.5 172.0,915.2 173.6,913.8 175.3,913.8 176.9,914.9 178.6,914.3 180.2,913.9 181.9,914.0 183.5,913.8 185.2,913.3 186.8,914.7 188.5,915.5 190.1,914.9 191.8,914.7 193.4,913.8 195.1,914.1 196.7,913.2 198.4,915.0 200.0,913.7 201.7,913.7 203.3,917.7 201.8,929.2" fill="#000"/>
<rect x="173.5" y="913.8" width="1.8" height="1.8" fill="#000"/>
<rect x="175.9" y="914.0" width="1.8" height="1.8" fill="#000"/>
<rect x="200.3" y="911.6" width="1.8" height="1.8" fill="#000"/>
<rect x="185.9" y="910.9" width="1.8" height="1.8" fill="#000"/>
<rect x="202.7" y="909.3" width="1.8" height="1.8" fill="#000"/>
<rect x="173.5" y="914.0" width="1.8" height="1.8" fill="#000"/>
<rect x="184.6" y="908.9" width="1.8" height="1.8" fill="#000"/>
<rect x="195.8" y="911.9" width="1.8" height="1.8" fill="#000"/>
<rect x="188.9" y="910.8" width="1.8" height="1.8" fill="#000"/>
<rect x="175.0" y="909.3" width="1.8" height="1.8" fill="#000"/>
<rect x="187.3" y="908.3" width="1.8" height="1.8" fill="#000"/>
<rect x="189.9" y="912.1" width="1.8" height="1.8" fill="#000"/>
<rect x="178.4" y="913.8" width="1.8" height="1.8" fill="#000"/>
<rect x="184.2" y="910.8" width="1.8" height="1.8" fill="#000"/>
<rect x="178.5" y="913.9" width="1.8" height="1.8" fill="#000"/>
<rect x="182.9" y="910.4" width="1.8" height="1.8" fill="#000"/>
<rect x="177.4" y="912.7" width="1.8" height="1.8" fill="#000"/>
<rect x="194.2" y="909.4" width="1.8" height="1.8" fill="#000"/>
<rect x="188.5" y="912.2" width="1.8" height="1.8" fill="#000"/>
<rect x="176.3" y="907.0" width="1.8" height="1.8" fill="#000"/>
<rect x="180.6" y="908.7" width="1.8" height="1.8" fill="#000"/>
<rect x="203.7" y="913.7" width="1.8" height="1.8" fill="#000"/>
<rect x="180.8" y="913.5" width="1.8" height="1.8" fill="#000"/>
<rect x="200.3" y="912.1" width="1.8" height="1.8" fill="#000"/>
<rect x="181.9" y="910.8" width="1.8" height="1.8" fill="#000"/>
<rect x="179.8" y="912.9" width="1.8" height="1.8" fill="#000"/>
<rect x="180.5" y="911.6" width="1.8" height="1.8" fill="#000"/>
<rect x="186.3" y="913.4" width="1.8" height="1.8" fill="#000"/>
<rect x="167.7" y="908.6" width="1.8" height="1.8" fill="#000"/>
<rect x="171.4" y="912.5" width="1.8" height="1.8" fill="#000"/>
<rect x="175.3" y="912.6" width="1.8" height="1.8" fill="#000"/>
<rect x="179.8" y="911.9" width="1.8" height="1.8" fill="#000"/>
<rect x="172.0" y="912.6" width="1.8" height="1.8" fill="#000"/>
<rect x="191.4" y="911.2" width="1.8" height="1.8" fill="#000"/>
<rect x="203.8" y="910.2" width="1.8" height="1.8" fill="#000"/>
<rect x="176.6" y="888.0" width="1.9" height="1.9" fill="#000"/>
<rect x="170.1" y="893.0" width="1.9" height="1.9" fill="#000"/>
<rect x="183.1" y="893.0" width="1.9" height="1.9" fill="#000"/>
<rect x="188.1" y="896.5" width="1.9" height="1.9" fill="#000"/>
<rect x="188.6" y="898.0" width="1.9" height="1.9" fill="#000"/>
<rect x="168.1" y="900.0" width="1.9" height="1.9" fill="#000"/>
<rect x="176.6" y="900.0" width="1.9" height="1.9" fill="#000"/>
<rect x="180.1" y="900.0" width="1.9" height="1.9" fill="#000"/>
<rect x="205.1" y="900.0" width="1.9" height="1.9" fill="#000"/>
<rect x="171.6" y="903.0" width="1.9" height="1.9" fill="#000"/>
<rect x="180.1" y="903.0" width="1.9" height="1.9" fill="#000"/>
<rect x="196.1" y="901.5" width="1.9" height="1.9" fill="#000"/>
<rect x="169.1" y="908.0" width="1.9" height="1.9" fill="#000"/>
<rect x="175.1" y="908.5" width="1.9" height="1.9" fill="#000"/>
<rect x="181.1" y="908.0" width="1.9" height="1.9" fill="#000"/>
<rect x="187.1" y="907.0" width="1.9" height="1.9" fill="#000"/>
<rect x="198.1" y="907.5" width="1.9" height="1.9" fill="#000"/>
<rect x="204.6" y="918.0" width="1.9" height="1.9" fill="#000"/>
<rect x="192.1" y="902.0" width="1.9" height="1.9" fill="#000"/>
<rect x="194.1" y="904.0" width="1.9" height="1.9" fill="#000"/>
<rect x="193.1" y="909.0" width="1.9" height="1.9" fill="#000"/>
<rect x="195.1" y="911.0" width="1.9" height="1.9" fill="#000"/>
<rect x="43.3" y="951.3" width="89.7" height="63.200000000000045" fill="none" stroke="#000" stroke-width="1.8"/>
<line x1="43.3" y1="1014.5" x2="43.3" y2="1019.5" stroke="#000" stroke-width="1.5"/>
<line x1="50.05059765276478" y1="1014.5" x2="50.05059765276478" y2="1018.5" stroke="#000" stroke-width="1.5"/>
<line x1="53.99944413708843" y1="1014.5" x2="53.99944413708843" y2="1018.5" stroke="#000" stroke-width="1.5"/>
<line x1="56.80119530552955" y1="1014.5" x2="56.80119530552955" y2="1018.5" stroke="#000" stroke-width="1.5"/>
<line x1="58.97440234723522" y1="1014.5" x2="58.97440234723522" y2="1018.5" stroke="#000" stroke-width="1.5"/>
<line x1="60.750041789853206" y1="1014.5" x2="60.750041789853206" y2="1018.5" stroke="#000" stroke-width="1.5"/>
<line x1="62.25132354731971" y1="1014.5" x2="62.25132354731971" y2="1018.5" stroke="#000" stroke-width="1.5"/>
<line x1="63.55179295829433" y1="1014.5" x2="63.55179295829433" y2="1018.5" stroke="#000" stroke-width="1.5"/>
<line x1="64.69888827417685" y1="1014.5" x2="64.69888827417685" y2="1018.5" stroke="#000" stroke-width="1.5"/>
<line x1="65.725" y1="1014.5" x2="65.725" y2="1019.5" stroke="#000" stroke-width="1.5"/>
<line x1="72.47559765276478" y1="1014.5" x2="72.47559765276478" y2="1018.5" stroke="#000" stroke-width="1.5"/>
<line x1="76.42444413708843" y1="1014.5" x2="76.42444413708843" y2="1018.5" stroke="#000" stroke-width="1.5"/>
<line x1="79.22619530552956" y1="1014.5" x2="79.22619530552956" y2="1018.5" stroke="#000" stroke-width="1.5"/>
<line x1="81.39940234723522" y1="1014.5" x2="81.39940234723522" y2="1018.5" stroke="#000" stroke-width="1.5"/>
<line x1="83.1750417898532" y1="1014.5" x2="83.1750417898532" y2="1018.5" stroke="#000" stroke-width="1.5"/>
<line x1="84.67632354731971" y1="1014.5" x2="84.67632354731971" y2="1018.5" stroke="#000" stroke-width="1.5"/>
<line x1="85.97679295829434" y1="1014.5" x2="85.97679295829434" y2="1018.5" stroke="#000" stroke-width="1.5"/>
<line x1="87.12388827417686" y1="1014.5" x2="87.12388827417686" y2="1018.5" stroke="#000" stroke-width="1.5"/>
<line x1="88.15" y1="1014.5" x2="88.15" y2="1019.5" stroke="#000" stroke-width="1.5"/>
<line x1="94.90059765276479" y1="1014.5" x2="94.90059765276479" y2="1018.5" stroke="#000" stroke-width="1.5"/>
<line x1="98.84944413708843" y1="1014.5" x2="98.84944413708843" y2="1018.5" stroke="#000" stroke-width="1.5"/>
<line x1="101.65119530552955" y1="1014.5" x2="101.65119530552955" y2="1018.5" stroke="#000" stroke-width="1.5"/>
<line x1="103.82440234723522" y1="1014.5" x2="103.82440234723522" y2="1018.5" stroke="#000" stroke-width="1.5"/>
<line x1="105.60004178985321" y1="1014.5" x2="105.60004178985321" y2="1018.5" stroke="#000" stroke-width="1.5"/>
<line x1="107.10132354731971" y1="1014.5" x2="107.10132354731971" y2="1018.5" stroke="#000" stroke-width="1.5"/>
<line x1="108.40179295829434" y1="1014.5" x2="108.40179295829434" y2="1018.5" stroke="#000" stroke-width="1.5"/>
<line x1="109.54888827417686" y1="1014.5" x2="109.54888827417686" y2="1018.5" stroke="#000" stroke-width="1.5"/>
<line x1="110.575" y1="1014.5" x2="110.575" y2="1019.5" stroke="#000" stroke-width="1.5"/>
<line x1="117.32559765276478" y1="1014.5" x2="117.32559765276478" y2="1018.5" stroke="#000" stroke-width="1.5"/>
<line x1="121.27444413708844" y1="1014.5" x2="121.27444413708844" y2="1018.5" stroke="#000" stroke-width="1.5"/>
<line x1="124.07619530552955" y1="1014.5" x2="124.07619530552955" y2="1018.5" stroke="#000" stroke-width="1.5"/>
<line x1="126.24940234723522" y1="1014.5" x2="126.24940234723522" y2="1018.5" stroke="#000" stroke-width="1.5"/>
<line x1="128.02504178985322" y1="1014.5" x2="128.02504178985322" y2="1018.5" stroke="#000" stroke-width="1.5"/>
<line x1="129.5263235473197" y1="1014.5" x2="129.5263235473197" y2="1018.5" stroke="#000" stroke-width="1.5"/>
<line x1="130.82679295829433" y1="1014.5" x2="130.82679295829433" y2="1018.5" stroke="#000" stroke-width="1.5"/>
<line x1="131.97388827417686" y1="1014.5" x2="131.97388827417686" y2="1018.5" stroke="#000" stroke-width="1.5"/>
<line x1="38.5" y1="1014.5" x2="43.3" y2="1014.5" stroke="#000" stroke-width="1.5"/>
<line x1="40.3" y1="1009.7437260685091" x2="43.3" y2="1009.7437260685091" stroke="#000" stroke-width="1.5"/>
<line x1="40.3" y1="1006.9614841754293" x2="43.3" y2="1006.9614841754293" stroke="#000" stroke-width="1.5"/>
<line x1="40.3" y1="1004.9874521370182" x2="43.3" y2="1004.9874521370182" stroke="#000" stroke-width="1.5"/>
<line x1="40.3" y1="1003.4562739314908" x2="43.3" y2="1003.4562739314908" stroke="#000" stroke-width="1.5"/>
<line x1="40.3" y1="1002.2052102439384" x2="43.3" y2="1002.2052102439384" stroke="#000" stroke-width="1.5"/>
<line x1="40.3" y1="1001.1474509677747" x2="43.3" y2="1001.1474509677747" stroke="#000" stroke-width="1.5"/>
<line x1="40.3" y1="1000.2311782055273" x2="43.3" y2="1000.2311782055273" stroke="#000" stroke-width="1.5"/>
<line x1="40.3" y1="999.4229683508587" x2="43.3" y2="999.4229683508587" stroke="#000" stroke-width="1.5"/>
<line x1="38.5" y1="998.7" x2="43.3" y2="998.7" stroke="#000" stroke-width="1.5"/>
<line x1="40.3" y1="993.9437260685091" x2="43.3" y2="993.9437260685091" stroke="#000" stroke-width="1.5"/>
<line x1="40.3" y1="991.1614841754293" x2="43.3" y2="991.1614841754293" stroke="#000" stroke-width="1.5"/>
<line x1="40.3" y1="989.1874521370182" x2="43.3" y2="989.1874521370182" stroke="#000" stroke-width="1.5"/>
<line x1="40.3" y1="987.6562739314909" x2="43.3" y2="987.6562739314909" stroke="#000" stroke-width="1.5"/>
<line x1="40.3" y1="986.4052102439384" x2="43.3" y2="986.4052102439384" stroke="#000" stroke-width="1.5"/>
<line x1="40.3" y1="985.3474509677748" x2="43.3" y2="985.3474509677748" stroke="#000" stroke-width="1.5"/>
<line x1="40.3" y1="984.4311782055273" x2="43.3" y2="984.4311782055273" stroke="#000" stroke-width="1.5"/>
<line x1="40.3" y1="983.6229683508586" x2="43.3" y2="983.6229683508586" stroke="#000" stroke-width="1.5"/>
<line x1="38.5" y1="982.9" x2="43.3" y2="982.9" stroke="#000" stroke-width="1.5"/>
<line x1="40.3" y1="978.1437260685091" x2="43.3" y2="978.1437260685091" stroke="#000" stroke-width="1.5"/>
<line x1="40.3" y1="975.3614841754293" x2="43.3" y2="975.3614841754293" stroke="#000" stroke-width="1.5"/>
<line x1="40.3" y1="973.3874521370182" x2="43.3" y2="973.3874521370182" stroke="#000" stroke-width="1.5"/>
<line x1="40.3" y1="971.8562739314909" x2="43.3" y2="971.8562739314909" stroke="#000" stroke-width="1.5"/>
<line x1="40.3" y1="970.6052102439384" x2="43.3" y2="970.6052102439384" stroke="#000" stroke-width="1.5"/>
<line x1="40.3" y1="969.5474509677747" x2="43.3" y2="969.5474509677747" stroke="#000" stroke-width="1.5"/>
<line x1="40.3" y1="968.6311782055272" x2="43.3" y2="968.6311782055272" stroke="#000" stroke-width="1.5"/>
<line x1="40.3" y1="967.8229683508587" x2="43.3" y2="967.8229683508587" stroke="#000" stroke-width="1.5"/>
<line x1="38.5" y1="967.0999999999999" x2="43.3" y2="967.0999999999999" stroke="#000" stroke-width="1.5"/>
<line x1="40.3" y1="962.3437260685091" x2="43.3" y2="962.3437260685091" stroke="#000" stroke-width="1.5"/>
<line x1="40.3" y1="959.5614841754293" x2="43.3" y2="959.5614841754293" stroke="#000" stroke-width="1.5"/>
<line x1="40.3" y1="957.5874521370182" x2="43.3" y2="957.5874521370182" stroke="#000" stroke-width="1.5"/>
<line x1="40.3" y1="956.0562739314909" x2="43.3" y2="956.0562739314909" stroke="#000" stroke-width="1.5"/>
<line x1="40.3" y1="954.8052102439384" x2="43.3" y2="954.8052102439384" stroke="#000" stroke-width="1.5"/>
<line x1="40.3" y1="953.7474509677747" x2="43.3" y2="953.7474509677747" stroke="#000" stroke-width="1.5"/>
<line x1="40.3" y1="952.8311782055273" x2="43.3" y2="952.8311782055273" stroke="#000" stroke-width="1.5"/>
<line x1="40.3" y1="952.0229683508586" x2="43.3" y2="952.0229683508586" stroke="#000" stroke-width="1.5"/>
<line x1="38.5" y1="951.3" x2="43.3" y2="951.3" stroke="#000" stroke-width="1.5"/>
<polygon points="65.5,1014.5 64.0,1004.0 65.6,1002.8 67.2,1001.2 68.8,1003.8 70.4,1003.3 72.1,1003.8 73.7,1001.9 75.3,1001.7 76.9,1001.3 78.5,1001.7 80.1,1001.0 81.7,1001.3 83.3,1000.1 84.9,1000.1 86.6,1000.9 88.2,999.6 89.8,1000.3 91.4,1001.7 93.0,999.8 94.6,999.8 96.2,1000.5 97.8,999.2 99.4,1000.2 101.1,999.8 102.7,1000.3 104.3,1000.7 105.9,1000.0 107.5,1002.0 106.0,1014.5" fill="#000"/>
<rect x="91.3" y="998.2" width="1.8" height="1.8" fill="#000"/>
<rect x="82.8" y="1001.1" width="1.8" height="1.8" fill="#000"/>
<rect x="83.8" y="1000.1" width="1.8" height="1.8" fill="#000"/>
<rect x="94.4" y="1000.5" width="1.8" height="1.8" fill="#000"/>
<rect x="104.3" y="1000.2" width="1.8" height="1.8" fill="#000"/>
<rect x="82.8" y="1000.5" width="1.8" height="1.8" fill="#000"/>
<rect x="92.6" y="999.6" width="1.8" height="1.8" fill="#000"/>
<rect x="78.6" y="1000.4" width="1.8" height="1.8" fill="#000"/>
<rect x="86.3" y="1000.7" width="1.8" height="1.8" fill="#000"/>
<rect x="74.2" y="1000.6" width="1.8" height="1.8" fill="#000"/>
<rect x="71.7" y="999.4" width="1.8" height="1.8" fill="#000"/>
<rect x="79.7" y="999.7" width="1.8" height="1.8" fill="#000"/>
<rect x="78.6" y="999.5" width="1.8" height="1.8" fill="#000"/>
<rect x="92.7" y="1000.8" width="1.8" height="1.8" fill="#000"/>
<rect x="88.0" y="999.5" width="1.8" height="1.8" fill="#000"/>
<rect x="103.1" y="998.8" width="1.8" height="1.8" fill="#000"/>
<rect x="90.5" y="1000.9" width="1.8" height="1.8" fill="#000"/>
<rect x="103.5" y="998.7" width="1.8" height="1.8" fill="#000"/>
<rect x="151.3" y="951.3" width="89.5" height="63.200000000000045" fill="none" stroke="#000" stroke-width="1.8"/>
<line x1="151.3" y1="1014.5" x2="151.3" y2="1019.5" stroke="#000" stroke-width="1.5"/>
<line x1="158.0355461529816" y1="1014.5" x2="158.0355461529816" y2="1018.5" stroke="#000" stroke-width="1.5"/>
<line x1="161.97558807435246" y1="1014.5" x2="161.97558807435246" y2="1018.5" stroke="#000" stroke-width="1.5"/>
<line x1="164.77109230596318" y1="1014.5" x2="164.77109230596318" y2="1018.5" stroke="#000" stroke-width="1.5"/>
<line x1="166.93945384701843" y1="1014.5" x2="166.93945384701843" y2="1018.5" stroke="#000" stroke-width="1.5"/>
<line x1="168.71113422733404" y1="1014.5" x2="168.71113422733404" y2="1018.5" stroke="#000" stroke-width="1.5"/>
<line x1="170.209068645319" y1="1014.5" x2="170.209068645319" y2="1018.5" stroke="#000" stroke-width="1.5"/>
<line x1="171.50663845894474" y1="1014.5" x2="171.50663845894474" y2="1018.5" stroke="#000" stroke-width="1.5"/>
<line x1="172.6511761487049" y1="1014.5" x2="172.6511761487049" y2="1018.5" stroke="#000" stroke-width="1.5"/>
<line x1="173.675" y1="1014.5" x2="173.675" y2="1019.5" stroke="#000" stroke-width="1.5"/>
<line x1="180.4105461529816" y1="1014.5" x2="180.4105461529816" y2="1018.5" stroke="#000" stroke-width="1.5"/>
<line x1="184.35058807435246" y1="1014.5" x2="184.35058807435246" y2="1018.5" stroke="#000" stroke-width="1.5"/>
<line x1="187.14609230596318" y1="1014.5" x2="187.14609230596318" y2="1018.5" stroke="#000" stroke-width="1.5"/>
<line x1="189.31445384701843" y1="1014.5" x2="189.31445384701843" y2="1018.5" stroke="#000" stroke-width="1.5"/>
<line x1="191.08613422733404" y1="1014.5" x2="191.08613422733404" y2="1018.5" stroke="#000" stroke-width="1.5"/>
<line x1="192.584068645319" y1="1014.5" x2="192.584068645319" y2="1018.5" stroke="#000" stroke-width="1.5"/>
<line x1="193.88163845894474" y1="1014.5" x2="193.88163845894474" y2="1018.5" stroke="#000" stroke-width="1.5"/>
<line x1="195.0261761487049" y1="1014.5" x2="195.0261761487049" y2="1018.5" stroke="#000" stroke-width="1.5"/>
<line x1="196.05" y1="1014.5" x2="196.05" y2="1019.5" stroke="#000" stroke-width="1.5"/>
<line x1="202.7855461529816" y1="1014.5" x2="202.7855461529816" y2="1018.5" stroke="#000" stroke-width="1.5"/>
<line x1="206.72558807435246" y1="1014.5" x2="206.72558807435246" y2="1018.5" stroke="#000" stroke-width="1.5"/>
<line x1="209.52109230596318" y1="1014.5" x2="209.52109230596318" y2="1018.5" stroke="#000" stroke-width="1.5"/>
<line x1="211.68945384701843" y1="1014.5" x2="211.68945384701843" y2="1018.5" stroke="#000" stroke-width="1.5"/>
<line x1="213.46113422733404" y1="1014.5" x2="213.46113422733404" y2="1018.5" stroke="#000" stroke-width="1.5"/>
<line x1="214.959068645319" y1="1014.5" x2="214.959068645319" y2="1018.5" stroke="#000" stroke-width="1.5"/>
<line x1="216.25663845894474" y1="1014.5" x2="216.25663845894474" y2="1018.5" stroke="#000" stroke-width="1.5"/>
<line x1="217.4011761487049" y1="1014.5" x2="217.4011761487049" y2="1018.5" stroke="#000" stroke-width="1.5"/>
<line x1="218.425" y1="1014.5" x2="218.425" y2="1019.5" stroke="#000" stroke-width="1.5"/>
<line x1="225.1605461529816" y1="1014.5" x2="225.1605461529816" y2="1018.5" stroke="#000" stroke-width="1.5"/>
<line x1="229.10058807435246" y1="1014.5" x2="229.10058807435246" y2="1018.5" stroke="#000" stroke-width="1.5"/>
<line x1="231.89609230596318" y1="1014.5" x2="231.89609230596318" y2="1018.5" stroke="#000" stroke-width="1.5"/>
<line x1="234.06445384701843" y1="1014.5" x2="234.06445384701843" y2="1018.5" stroke="#000" stroke-width="1.5"/>
<line x1="235.83613422733404" y1="1014.5" x2="235.83613422733404" y2="1018.5" stroke="#000" stroke-width="1.5"/>
<line x1="237.334068645319" y1="1014.5" x2="237.334068645319" y2="1018.5" stroke="#000" stroke-width="1.5"/>
<line x1="238.63163845894474" y1="1014.5" x2="238.63163845894474" y2="1018.5" stroke="#000" stroke-width="1.5"/>
<line x1="239.7761761487049" y1="1014.5" x2="239.7761761487049" y2="1018.5" stroke="#000" stroke-width="1.5"/>
<line x1="146.5" y1="1014.5" x2="151.3" y2="1014.5" stroke="#000" stroke-width="1.5"/>
<line x1="148.3" y1="1009.7437260685091" x2="151.3" y2="1009.7437260685091" stroke="#000" stroke-width="1.5"/>
<line x1="148.3" y1="1006.9614841754293" x2="151.3" y2="1006.9614841754293" stroke="#000" stroke-width="1.5"/>
<line x1="148.3" y1="1004.9874521370182" x2="151.3" y2="1004.9874521370182" stroke="#000" stroke-width="1.5"/>
<line x1="148.3" y1="1003.4562739314908" x2="151.3" y2="1003.4562739314908" stroke="#000" stroke-width="1.5"/>
<line x1="148.3" y1="1002.2052102439384" x2="151.3" y2="1002.2052102439384" stroke="#000" stroke-width="1.5"/>
<line x1="148.3" y1="1001.1474509677747" x2="151.3" y2="1001.1474509677747" stroke="#000" stroke-width="1.5"/>
<line x1="148.3" y1="1000.2311782055273" x2="151.3" y2="1000.2311782055273" stroke="#000" stroke-width="1.5"/>
<line x1="148.3" y1="999.4229683508587" x2="151.3" y2="999.4229683508587" stroke="#000" stroke-width="1.5"/>
<line x1="146.5" y1="998.7" x2="151.3" y2="998.7" stroke="#000" stroke-width="1.5"/>
<line x1="148.3" y1="993.9437260685091" x2="151.3" y2="993.9437260685091" stroke="#000" stroke-width="1.5"/>
<line x1="148.3" y1="991.1614841754293" x2="151.3" y2="991.1614841754293" stroke="#000" stroke-width="1.5"/>
<line x1="148.3" y1="989.1874521370182" x2="151.3" y2="989.1874521370182" stroke="#000" stroke-width="1.5"/>
<line x1="148.3" y1="987.6562739314909" x2="151.3" y2="987.6562739314909" stroke="#000" stroke-width="1.5"/>
<line x1="148.3" y1="986.4052102439384" x2="151.3" y2="986.4052102439384" stroke="#000" stroke-width="1.5"/>
<line x1="148.3" y1="985.3474509677748" x2="151.3" y2="985.3474509677748" stroke="#000" stroke-width="1.5"/>
<line x1="148.3" y1="984.4311782055273" x2="151.3" y2="984.4311782055273" stroke="#000" stroke-width="1.5"/>
<line x1="148.3" y1="983.6229683508586" x2="151.3" y2="983.6229683508586" stroke="#000" stroke-width="1.5"/>
<line x1="146.5" y1="982.9" x2="151.3" y2="982.9" stroke="#000" stroke-width="1.5"/>
<line x1="148.3" y1="978.1437260685091" x2="151.3" y2="978.1437260685091" stroke="#000" stroke-width="1.5"/>
<line x1="148.3" y1="975.3614841754293" x2="151.3" y2="975.3614841754293" stroke="#000" stroke-width="1.5"/>
<line x1="148.3" y1="973.3874521370182" x2="151.3" y2="973.3874521370182" stroke="#000" stroke-width="1.5"/>
<line x1="148.3" y1="971.8562739314909" x2="151.3" y2="971.8562739314909" stroke="#000" stroke-width="1.5"/>
<line x1="148.3" y1="970.6052102439384" x2="151.3" y2="970.6052102439384" stroke="#000" stroke-width="1.5"/>
<line x1="148.3" y1="969.5474509677747" x2="151.3" y2="969.5474509677747" stroke="#000" stroke-width="1.5"/>
<line x1="148.3" y1="968.6311782055272" x2="151.3" y2="968.6311782055272" stroke="#000" stroke-width="1.5"/>
<line x1="148.3" y1="967.8229683508587" x2="151.3" y2="967.8229683508587" stroke="#000" stroke-width="1.5"/>
<line x1="146.5" y1="967.0999999999999" x2="151.3" y2="967.0999999999999" stroke="#000" stroke-width="1.5"/>
<line x1="148.3" y1="962.3437260685091" x2="151.3" y2="962.3437260685091" stroke="#000" stroke-width="1.5"/>
<line x1="148.3" y1="959.5614841754293" x2="151.3" y2="959.5614841754293" stroke="#000" stroke-width="1.5"/>
<line x1="148.3" y1="957.5874521370182" x2="151.3" y2="957.5874521370182" stroke="#000" stroke-width="1.5"/>
<line x1="148.3" y1="956.0562739314909" x2="151.3" y2="956.0562739314909" stroke="#000" stroke-width="1.5"/>
<line x1="148.3" y1="954.8052102439384" x2="151.3" y2="954.8052102439384" stroke="#000" stroke-width="1.5"/>
<line x1="148.3" y1="953.7474509677747" x2="151.3" y2="953.7474509677747" stroke="#000" stroke-width="1.5"/>
<line x1="148.3" y1="952.8311782055273" x2="151.3" y2="952.8311782055273" stroke="#000" stroke-width="1.5"/>
<line x1="148.3" y1="952.0229683508586" x2="151.3" y2="952.0229683508586" stroke="#000" stroke-width="1.5"/>
<line x1="146.5" y1="951.3" x2="151.3" y2="951.3" stroke="#000" stroke-width="1.5"/>
<polygon points="171.7,1014.5 170.2,1004.3 171.8,1002.2 173.4,1002.5 175.0,1002.0 176.6,1003.2 178.2,1001.4 179.8,1002.2 181.4,1003.0 183.0,1002.6 184.6,1003.4 186.2,1001.8 187.8,1001.9 189.4,1001.8 191.0,1001.3 192.6,1001.2 194.2,1002.3 195.8,1001.8 197.4,1002.5 199.0,1003.5 200.6,1003.6 202.2,1003.0 203.8,1003.9 202.3,1014.5" fill="#000"/>
<rect x="188.9" y="998.7" width="1.8" height="1.8" fill="#000"/>
<rect x="200.4" y="1000.5" width="1.8" height="1.8" fill="#000"/>
<rect x="196.1" y="1001.6" width="1.8" height="1.8" fill="#000"/>
<rect x="180.9" y="1001.1" width="1.8" height="1.8" fill="#000"/>
<rect x="187.5" y="1001.9" width="1.8" height="1.8" fill="#000"/>
<rect x="179.5" y="1000.8" width="1.8" height="1.8" fill="#000"/>
<rect x="197.3" y="999.6" width="1.8" height="1.8" fill="#000"/>
<rect x="179.1" y="998.5" width="1.8" height="1.8" fill="#000"/>
<rect x="185.5" y="999.7" width="1.8" height="1.8" fill="#000"/>
<rect x="188.7" y="1000.5" width="1.8" height="1.8" fill="#000"/>
<rect x="177.1" y="998.9" width="1.8" height="1.8" fill="#000"/>
<rect x="184.4" y="999.9" width="1.8" height="1.8" fill="#000"/>
<rect x="190.5" y="1000.6" width="1.8" height="1.8" fill="#000"/>
<rect x="187.7" y="1001.3" width="1.8" height="1.8" fill="#000"/>
<rect x="192.6" y="1000.0" width="1.8" height="1.8" fill="#000"/>
<rect x="193.0" y="1001.8" width="1.8" height="1.8" fill="#000"/>
<rect x="184.3" y="997.5" width="1.8" height="1.8" fill="#000"/>
<rect x="200.2" y="1002.0" width="1.8" height="1.8" fill="#000"/>
<polyline points="202.9,1001.0 204.0,1001.5 204.5,1002.1 205.0,1003.2 206.1,1003.7 206.7,1004.1 207.5,1005.1 208.1,1005.9 208.9,1006.6 210.0,1007.5" fill="none" stroke="#000" stroke-width="1.5" stroke-linejoin="round"/>
<polyline points="203.5,1006.0 204.1,1005.2 205.3,1004.6 205.7,1003.7 206.5,1002.9 207.7,1002.0 207.9,1001.5 209.0,1000.5" fill="none" stroke="#000" stroke-width="1.5" stroke-linejoin="round"/>
<line x1="35.3" y1="632.3" x2="35.3" y2="695.5" stroke="#555" stroke-width="1.3"/>
<polyline points="31.999999999999996,639.3 35.3,631.3 38.599999999999994,639.3" fill="none" stroke="#000" stroke-width="1.5"/>
<line x1="35.8" y1="724.5" x2="35.8" y2="782" stroke="#555" stroke-width="1.3"/>
<polyline points="32.5,731.5 35.8,723.5 39.099999999999994,731.5" fill="none" stroke="#000" stroke-width="1.5"/>
<line x1="35.5" y1="869.5" x2="35.5" y2="928.5" stroke="#555" stroke-width="1.3"/>
<polyline points="32.2,876.5 35.5,868.5 38.8,876.5" fill="none" stroke="#000" stroke-width="1.5"/>
<line x1="35.5" y1="954.5" x2="35.5" y2="1016.5" stroke="#555" stroke-width="1.3"/>
<polyline points="32.2,961.5 35.5,953.5 38.8,961.5" fill="none" stroke="#000" stroke-width="1.5"/>
<line x1="42.7" y1="791.1" x2="104" y2="791.1" stroke="#444" stroke-width="1.3"/>
<polyline points="97.5,788.1 105,791.1 97.5,794.1" fill="none" stroke="#000" stroke-width="1.4"/>
<line x1="40.8" y1="1025.5" x2="100.5" y2="1025.5" stroke="#444" stroke-width="1.3"/>
<polyline points="94.0,1022.5 101.5,1025.5 94.0,1028.5" fill="none" stroke="#000" stroke-width="1.4"/>
<text transform="translate(27,684.4) rotate(-90)" font-size="15" font-family='"Liberation Serif", serif' text-anchor="middle" textLength="22" lengthAdjust="spacingAndGlyphs">IL2</text>
<text transform="translate(11.9,756.4) rotate(-90)" font-size="15.5" font-family='"Liberation Serif", serif' text-anchor="middle" textLength="48" lengthAdjust="spacingAndGlyphs">Isotype</text>
<text transform="translate(28.5,757.3) rotate(-90)" font-size="15.5" font-family='"Liberation Serif", serif' text-anchor="middle" textLength="46.2" lengthAdjust="spacingAndGlyphs">control</text>
<text transform="translate(26.8,918) rotate(-90)" font-size="15" font-family='"Liberation Serif", serif' text-anchor="middle" textLength="22.5" lengthAdjust="spacingAndGlyphs">IL2</text>
<text transform="translate(13.3,994) rotate(-90)" font-size="15.5" font-family='"Liberation Serif", serif' text-anchor="middle" textLength="48.4" lengthAdjust="spacingAndGlyphs">Isotype</text>
<text transform="translate(30.6,994.5) rotate(-90)" font-size="15.5" font-family='"Liberation Serif", serif' text-anchor="middle" textLength="47.6" lengthAdjust="spacingAndGlyphs">control</text>
<text x="45.8" y="804.6" font-size="14" font-family='"Liberation Serif", serif' font-weight="normal" text-anchor="start" textLength="40" lengthAdjust="spacingAndGlyphs" >CD11c</text>
<text x="39.2" y="1039" font-size="14" font-family='"Liberation Serif", serif' font-weight="normal" text-anchor="start" textLength="39.7" lengthAdjust="spacingAndGlyphs" >CD11c</text>
<text x="128.3" y="879.9" font-size="15.5" font-family='"Liberation Serif", serif' font-weight="normal" text-anchor="end" textLength="30.8" lengthAdjust="spacingAndGlyphs" >1.5%</text>
<text x="234.5" y="878.8" font-size="15.5" font-family='"Liberation Serif", serif' font-weight="normal" text-anchor="end" textLength="29" lengthAdjust="spacingAndGlyphs" >1.7%</text>
<line x1="337" y1="654.1" x2="337" y2="768.9" stroke="#7a7a7a" stroke-width="1"/>
<line x1="335.2" y1="654.0899999999999" x2="338.2" y2="654.0899999999999" stroke="#7a7a7a" stroke-width="1"/>
<text x="305.0" y="660.29" font-size="13" font-family='"Liberation Serif", serif' font-weight="normal" text-anchor="start" textLength="26.9" lengthAdjust="spacingAndGlyphs" >300</text>
<line x1="335.2" y1="673.225" x2="338.2" y2="673.225" stroke="#7a7a7a" stroke-width="1"/>
<line x1="335.2" y1="692.36" x2="338.2" y2="692.36" stroke="#7a7a7a" stroke-width="1"/>
<text x="304.4" y="698.5600000000001" font-size="13" font-family='"Liberation Serif", serif' font-weight="normal" text-anchor="start" textLength="27.5" lengthAdjust="spacingAndGlyphs" >200</text>
<line x1="335.2" y1="711.495" x2="338.2" y2="711.495" stroke="#7a7a7a" stroke-width="1"/>
<line x1="335.2" y1="730.63" x2="338.2" y2="730.63" stroke="#7a7a7a" stroke-width="1"/>
<text x="305.4" y="736.83" font-size="13" font-family='"Liberation Serif", serif' font-weight="normal" text-anchor="start" textLength="24.6" lengthAdjust="spacingAndGlyphs" >100</text>
<line x1="335.2" y1="749.765" x2="338.2" y2="749.765" stroke="#7a7a7a" stroke-width="1"/>
<line x1="335.2" y1="768.9" x2="338.2" y2="768.9" stroke="#7a7a7a" stroke-width="1"/>
<text x="320.6" y="775.1" font-size="13" font-family='"Liberation Serif", serif' font-weight="normal" text-anchor="start" textLength="9.4" lengthAdjust="spacingAndGlyphs" >0</text>
<line x1="337" y1="768.9" x2="453.8" y2="768.9" stroke="#7a7a7a" stroke-width="1"/>
<line x1="394.8" y1="768.9" x2="394.8" y2="772.4" stroke="#7a7a7a" stroke-width="1"/>
<line x1="453.5" y1="768.9" x2="453.5" y2="772.4" stroke="#7a7a7a" stroke-width="1"/>
<rect x="345" y="726.49684" width="20.30000000000001" height="42.40316" fill="#8c8c8c" stroke="#000" stroke-width="1.5"/>
<rect x="365.3" y="736.48531" width="18.19999999999999" height="32.41469" fill="#fff" stroke="#000" stroke-width="1.5"/>
<rect x="402.1" y="669.58935" width="20.19999999999999" height="99.31065" fill="#8c8c8c" stroke="#000" stroke-width="1.5"/>
<rect x="422.3" y="751.4871499999999" width="18.5" height="17.41285" fill="#fff" stroke="#000" stroke-width="1.5"/>
<text x="353.9" y="785.8" font-size="14" font-family='"Liberation Serif", serif' font-weight="normal" text-anchor="start" textLength="24.6" lengthAdjust="spacingAndGlyphs" >WT</text>
<text x="356.2" y="802.1" font-size="14" font-family='"Liberation Serif", serif' font-weight="normal" text-anchor="start" textLength="19.6" lengthAdjust="spacingAndGlyphs" >UT</text>
<text x="411.1" y="785.8" font-size="14" font-family='"Liberation Serif", serif' font-weight="normal" text-anchor="start" textLength="23.6" lengthAdjust="spacingAndGlyphs" >WT</text>
<text x="409.5" y="802.1" font-size="14" font-family='"Liberation Serif", serif' font-weight="normal" text-anchor="start" textLength="27.1" lengthAdjust="spacingAndGlyphs" >LPS</text>
<rect x="434.3" y="675" width="9.5" height="9.2" fill="#8c8c8c" stroke="#000" stroke-width="1.8"/>
<text x="449.8" y="684.5" font-size="14" font-family='"Liberation Serif", serif' font-weight="normal" text-anchor="start" textLength="23.1" lengthAdjust="spacingAndGlyphs" >IL2</text>
<rect x="434.3" y="692.7" width="9.5" height="9.2" fill="#fff" stroke="#000" stroke-width="1.8"/>
<text x="449.8" y="702.2" font-size="14" font-family='"Liberation Serif", serif' font-weight="normal" text-anchor="start" textLength="55.2" lengthAdjust="spacingAndGlyphs" >IL12p70</text>
<line x1="335" y1="868.1" x2="335" y2="982.6" stroke="#7a7a7a" stroke-width="1"/>
<line x1="333.2" y1="867.9100000000001" x2="336.2" y2="867.9100000000001" stroke="#7a7a7a" stroke-width="1"/>
<text x="303.4" y="874.1100000000001" font-size="13" font-family='"Liberation Serif", serif' font-weight="normal" text-anchor="start" textLength="26.6" lengthAdjust="spacingAndGlyphs" >300</text>
<line x1="333.2" y1="887.0250000000001" x2="336.2" y2="887.0250000000001" stroke="#7a7a7a" stroke-width="1"/>
<line x1="333.2" y1="906.14" x2="336.2" y2="906.14" stroke="#7a7a7a" stroke-width="1"/>
<text x="303.4" y="912.34" font-size="13" font-family='"Liberation Serif", serif' font-weight="normal" text-anchor="start" textLength="28.4" lengthAdjust="spacingAndGlyphs" >200</text>
<line x1="333.2" y1="925.255" x2="336.2" y2="925.255" stroke="#7a7a7a" stroke-width="1"/>
<line x1="333.2" y1="944.37" x2="336.2" y2="944.37" stroke="#7a7a7a" stroke-width="1"/>
<text x="304.1" y="950.57" font-size="13" font-family='"Liberation Serif", serif' font-weight="normal" text-anchor="start" textLength="24.6" lengthAdjust="spacingAndGlyphs" >100</text>
<line x1="333.2" y1="963.485" x2="336.2" y2="963.485" stroke="#7a7a7a" stroke-width="1"/>
<line x1="333.2" y1="982.6" x2="336.2" y2="982.6" stroke="#7a7a7a" stroke-width="1"/>
<text x="319.0" y="988.8000000000001" font-size="13" font-family='"Liberation Serif", serif' font-weight="normal" text-anchor="start" textLength="9.7" lengthAdjust="spacingAndGlyphs" >0</text>
<line x1="335" y1="982.6" x2="460.2" y2="982.6" stroke="#7a7a7a" stroke-width="1"/>
<line x1="397.5" y1="982.6" x2="397.5" y2="986.1" stroke="#7a7a7a" stroke-width="1"/>
<line x1="460" y1="982.6" x2="460" y2="986.1" stroke="#7a7a7a" stroke-width="1"/>
<rect x="348" y="966.9257" width="19" height="15.674299999999999" fill="#8c8c8c" stroke="#000" stroke-width="1.5"/>
<rect x="367" y="978.58585" width="18.80000000000001" height="4.01415" fill="#fff" stroke="#000" stroke-width="1.5"/>
<rect x="409.3" y="930.49251" width="19.5" height="52.10749" fill="#8c8c8c" stroke="#000" stroke-width="1.5"/>
<rect x="428.8" y="942.2673500000001" width="18.0" height="40.332649999999994" fill="#fff" stroke="#000" stroke-width="1.5"/>
<text x="336.6" y="999.8" font-size="14" font-family='"Liberation Serif", serif' font-weight="normal" text-anchor="start" textLength="28.5" lengthAdjust="spacingAndGlyphs" >IL15</text>
<text x="372.8" y="999.8" font-size="14" font-family='"Liberation Serif", serif' font-weight="normal" text-anchor="start" textLength="19.8" lengthAdjust="spacingAndGlyphs" >KO</text>
<text x="356.5" y="1015" font-size="14" font-family='"Liberation Serif", serif' font-weight="normal" text-anchor="start" textLength="18.8" lengthAdjust="spacingAndGlyphs" >UT</text>
<text x="400.4" y="999.8" font-size="14" font-family='"Liberation Serif", serif' font-weight="normal" text-anchor="start" textLength="28.5" lengthAdjust="spacingAndGlyphs" >IL15</text>
<text x="436.5" y="999.8" font-size="14" font-family='"Liberation Serif", serif' font-weight="normal" text-anchor="start" textLength="19.8" lengthAdjust="spacingAndGlyphs" >KO</text>
<text x="415.4" y="1015" font-size="14" font-family='"Liberation Serif", serif' font-weight="normal" text-anchor="start" textLength="27.2" lengthAdjust="spacingAndGlyphs" >LPS</text>
<rect x="432.5" y="889.2" width="9.5" height="9.2" fill="#8c8c8c" stroke="#000" stroke-width="1.8"/>
<text x="448.0" y="898.7" font-size="14" font-family='"Liberation Serif", serif' font-weight="normal" text-anchor="start" textLength="23.6" lengthAdjust="spacingAndGlyphs" >IL2</text>
<rect x="432.5" y="907.3" width="9.5" height="9.2" fill="#fff" stroke="#000" stroke-width="1.8"/>
<text x="448.0" y="916.8" font-size="14" font-family='"Liberation Serif", serif' font-weight="normal" text-anchor="start" textLength="55.8" lengthAdjust="spacingAndGlyphs" >IL12p70</text>
<text transform="translate(287.3,811.2) rotate(-90)" font-size="14.5" font-family='"Liberation Serif", serif' text-anchor="middle" textLength="248.6" lengthAdjust="spacingAndGlyphs">Concentration of IL2 or IL12 (pg/mL)</text>
</svg>
</body></html>
